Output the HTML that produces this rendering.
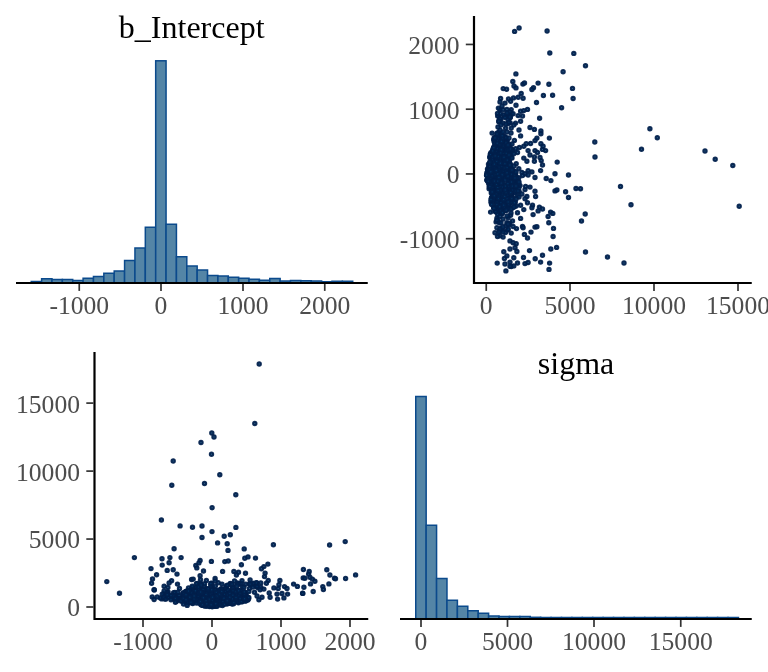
<!DOCTYPE html>
<html><head><meta charset="utf-8"><title>pairs</title>
<style>
html,body{margin:0;padding:0;background:#fff;}
svg{display:block;}
.t{font-family:"Liberation Serif",serif;font-size:25.6px;fill:#4d4d4d;}
.h{font-family:"Liberation Serif",serif;font-size:32px;fill:#000;}
</style></head><body>
<svg width="768" height="672" viewBox="0 0 768 672">
<rect width="768" height="672" fill="#fff"/>
<rect x="31.25" y="281.50" width="10.37" height="1.50" fill="#5485a6" stroke="#0b4a8c" stroke-width="1.5"/>
<rect x="41.62" y="278.75" width="10.37" height="4.25" fill="#5485a6" stroke="#0b4a8c" stroke-width="1.5"/>
<rect x="51.99" y="279.50" width="10.37" height="3.50" fill="#5485a6" stroke="#0b4a8c" stroke-width="1.5"/>
<rect x="62.36" y="279.50" width="10.37" height="3.50" fill="#5485a6" stroke="#0b4a8c" stroke-width="1.5"/>
<rect x="72.73" y="280.50" width="10.37" height="2.50" fill="#5485a6" stroke="#0b4a8c" stroke-width="1.5"/>
<rect x="83.10" y="278.25" width="10.37" height="4.75" fill="#5485a6" stroke="#0b4a8c" stroke-width="1.5"/>
<rect x="93.47" y="276.50" width="10.37" height="6.50" fill="#5485a6" stroke="#0b4a8c" stroke-width="1.5"/>
<rect x="103.84" y="273.25" width="10.37" height="9.75" fill="#5485a6" stroke="#0b4a8c" stroke-width="1.5"/>
<rect x="114.21" y="271.00" width="10.37" height="12.00" fill="#5485a6" stroke="#0b4a8c" stroke-width="1.5"/>
<rect x="124.58" y="260.50" width="10.37" height="22.50" fill="#5485a6" stroke="#0b4a8c" stroke-width="1.5"/>
<rect x="134.95" y="248.00" width="10.37" height="35.00" fill="#5485a6" stroke="#0b4a8c" stroke-width="1.5"/>
<rect x="145.32" y="227.25" width="10.37" height="55.75" fill="#5485a6" stroke="#0b4a8c" stroke-width="1.5"/>
<rect x="155.69" y="60.80" width="10.37" height="222.20" fill="#5485a6" stroke="#0b4a8c" stroke-width="1.5"/>
<rect x="166.06" y="224.25" width="10.37" height="58.75" fill="#5485a6" stroke="#0b4a8c" stroke-width="1.5"/>
<rect x="176.43" y="256.75" width="10.37" height="26.25" fill="#5485a6" stroke="#0b4a8c" stroke-width="1.5"/>
<rect x="186.80" y="266.00" width="10.37" height="17.00" fill="#5485a6" stroke="#0b4a8c" stroke-width="1.5"/>
<rect x="197.17" y="270.00" width="10.37" height="13.00" fill="#5485a6" stroke="#0b4a8c" stroke-width="1.5"/>
<rect x="207.54" y="275.50" width="10.37" height="7.50" fill="#5485a6" stroke="#0b4a8c" stroke-width="1.5"/>
<rect x="217.91" y="276.00" width="10.37" height="7.00" fill="#5485a6" stroke="#0b4a8c" stroke-width="1.5"/>
<rect x="228.28" y="277.25" width="10.37" height="5.75" fill="#5485a6" stroke="#0b4a8c" stroke-width="1.5"/>
<rect x="238.65" y="278.25" width="10.37" height="4.75" fill="#5485a6" stroke="#0b4a8c" stroke-width="1.5"/>
<rect x="249.02" y="279.25" width="10.37" height="3.75" fill="#5485a6" stroke="#0b4a8c" stroke-width="1.5"/>
<rect x="259.39" y="280.25" width="10.37" height="2.75" fill="#5485a6" stroke="#0b4a8c" stroke-width="1.5"/>
<rect x="269.76" y="278.50" width="10.37" height="4.50" fill="#5485a6" stroke="#0b4a8c" stroke-width="1.5"/>
<rect x="280.13" y="281.00" width="10.37" height="2.00" fill="#5485a6" stroke="#0b4a8c" stroke-width="1.5"/>
<rect x="290.50" y="280.50" width="10.37" height="2.50" fill="#5485a6" stroke="#0b4a8c" stroke-width="1.5"/>
<rect x="300.87" y="280.75" width="10.37" height="2.25" fill="#5485a6" stroke="#0b4a8c" stroke-width="1.5"/>
<rect x="311.24" y="281.00" width="10.37" height="2.00" fill="#5485a6" stroke="#0b4a8c" stroke-width="1.5"/>
<rect x="321.61" y="281.75" width="10.37" height="1.25" fill="#5485a6" stroke="#0b4a8c" stroke-width="1.5"/>
<rect x="331.98" y="281.25" width="10.37" height="1.75" fill="#5485a6" stroke="#0b4a8c" stroke-width="1.5"/>
<rect x="342.35" y="281.25" width="10.37" height="1.75" fill="#5485a6" stroke="#0b4a8c" stroke-width="1.5"/>
<line x1="16" y1="283" x2="367.75" y2="283" stroke="#000" stroke-width="2.2"/>
<line x1="79.25" y1="284" x2="79.25" y2="290.9" stroke="#333" stroke-width="1.7"/>
<text x="79.25" y="314.3" text-anchor="middle" class="t">-1000</text>
<line x1="161" y1="284" x2="161" y2="290.9" stroke="#333" stroke-width="1.7"/>
<text x="161" y="314.3" text-anchor="middle" class="t">0</text>
<line x1="243" y1="284" x2="243" y2="290.9" stroke="#333" stroke-width="1.7"/>
<text x="243" y="314.3" text-anchor="middle" class="t">1000</text>
<line x1="324.75" y1="284" x2="324.75" y2="290.9" stroke="#333" stroke-width="1.7"/>
<text x="324.75" y="314.3" text-anchor="middle" class="t">2000</text>
<text x="191.7" y="37.5" text-anchor="middle" class="h">b_Intercept</text>
<rect x="415.75" y="396.50" width="10.41" height="222.50" fill="#5485a6" stroke="#0b4a8c" stroke-width="1.5"/>
<rect x="426.16" y="525.25" width="10.41" height="93.75" fill="#5485a6" stroke="#0b4a8c" stroke-width="1.5"/>
<rect x="436.57" y="578.50" width="10.41" height="40.50" fill="#5485a6" stroke="#0b4a8c" stroke-width="1.5"/>
<rect x="446.98" y="600.25" width="10.41" height="18.75" fill="#5485a6" stroke="#0b4a8c" stroke-width="1.5"/>
<rect x="457.39" y="606.25" width="10.41" height="12.75" fill="#5485a6" stroke="#0b4a8c" stroke-width="1.5"/>
<rect x="467.80" y="610.75" width="10.41" height="8.25" fill="#5485a6" stroke="#0b4a8c" stroke-width="1.5"/>
<rect x="478.21" y="613.25" width="10.41" height="5.75" fill="#5485a6" stroke="#0b4a8c" stroke-width="1.5"/>
<rect x="488.62" y="616.00" width="10.41" height="3.00" fill="#5485a6" stroke="#0b4a8c" stroke-width="1.5"/>
<rect x="499.03" y="616.50" width="10.41" height="2.50" fill="#5485a6" stroke="#0b4a8c" stroke-width="1.5"/>
<rect x="509.44" y="616.50" width="10.41" height="2.50" fill="#5485a6" stroke="#0b4a8c" stroke-width="1.5"/>
<rect x="519.85" y="616.50" width="10.41" height="2.50" fill="#5485a6" stroke="#0b4a8c" stroke-width="1.5"/>
<rect x="530.26" y="617.30" width="10.41" height="1.70" fill="#5485a6" stroke="#0b4a8c" stroke-width="1.5"/>
<rect x="540.67" y="617.50" width="10.41" height="1.50" fill="#5485a6" stroke="#0b4a8c" stroke-width="1.5"/>
<rect x="551.08" y="617.50" width="10.41" height="1.50" fill="#5485a6" stroke="#0b4a8c" stroke-width="1.5"/>
<rect x="561.49" y="617.50" width="10.41" height="1.50" fill="#5485a6" stroke="#0b4a8c" stroke-width="1.5"/>
<rect x="571.90" y="617.50" width="10.41" height="1.50" fill="#5485a6" stroke="#0b4a8c" stroke-width="1.5"/>
<rect x="582.31" y="617.50" width="10.41" height="1.50" fill="#5485a6" stroke="#0b4a8c" stroke-width="1.5"/>
<rect x="592.72" y="617.50" width="10.41" height="1.50" fill="#5485a6" stroke="#0b4a8c" stroke-width="1.5"/>
<rect x="603.13" y="617.50" width="10.41" height="1.50" fill="#5485a6" stroke="#0b4a8c" stroke-width="1.5"/>
<rect x="613.54" y="617.50" width="10.41" height="1.50" fill="#5485a6" stroke="#0b4a8c" stroke-width="1.5"/>
<rect x="623.95" y="617.50" width="10.41" height="1.50" fill="#5485a6" stroke="#0b4a8c" stroke-width="1.5"/>
<rect x="634.36" y="617.50" width="10.41" height="1.50" fill="#5485a6" stroke="#0b4a8c" stroke-width="1.5"/>
<rect x="644.77" y="617.50" width="10.41" height="1.50" fill="#5485a6" stroke="#0b4a8c" stroke-width="1.5"/>
<rect x="655.18" y="617.50" width="10.41" height="1.50" fill="#5485a6" stroke="#0b4a8c" stroke-width="1.5"/>
<rect x="665.59" y="617.50" width="10.41" height="1.50" fill="#5485a6" stroke="#0b4a8c" stroke-width="1.5"/>
<rect x="676.00" y="617.50" width="10.41" height="1.50" fill="#5485a6" stroke="#0b4a8c" stroke-width="1.5"/>
<rect x="686.41" y="617.50" width="10.41" height="1.50" fill="#5485a6" stroke="#0b4a8c" stroke-width="1.5"/>
<rect x="696.82" y="617.50" width="10.41" height="1.50" fill="#5485a6" stroke="#0b4a8c" stroke-width="1.5"/>
<rect x="707.23" y="617.50" width="10.41" height="1.50" fill="#5485a6" stroke="#0b4a8c" stroke-width="1.5"/>
<rect x="717.64" y="617.50" width="10.41" height="1.50" fill="#5485a6" stroke="#0b4a8c" stroke-width="1.5"/>
<rect x="728.05" y="617.50" width="10.41" height="1.50" fill="#5485a6" stroke="#0b4a8c" stroke-width="1.5"/>
<line x1="400" y1="619" x2="751.75" y2="619" stroke="#000" stroke-width="2.2"/>
<line x1="421" y1="620" x2="421" y2="626.9" stroke="#333" stroke-width="1.7"/>
<text x="421" y="650.3" text-anchor="middle" class="t">0</text>
<line x1="507.5" y1="620" x2="507.5" y2="626.9" stroke="#333" stroke-width="1.7"/>
<text x="507.5" y="650.3" text-anchor="middle" class="t">5000</text>
<line x1="594" y1="620" x2="594" y2="626.9" stroke="#333" stroke-width="1.7"/>
<text x="594" y="650.3" text-anchor="middle" class="t">10000</text>
<line x1="680.75" y1="620" x2="680.75" y2="626.9" stroke="#333" stroke-width="1.7"/>
<text x="680.75" y="650.3" text-anchor="middle" class="t">15000</text>
<text x="576" y="373.5" text-anchor="middle" class="h">sigma</text>
<g fill="#03396c" fill-opacity="0.85" stroke="#011f4b" stroke-opacity="0.93" stroke-width="2">
<circle cx="496.5" cy="148.4" r="1.7"/>
<circle cx="506.5" cy="142.2" r="1.7"/>
<circle cx="503.0" cy="165.4" r="1.7"/>
<circle cx="488.3" cy="176.6" r="1.7"/>
<circle cx="487.7" cy="170.8" r="1.7"/>
<circle cx="499.6" cy="201.8" r="1.7"/>
<circle cx="490.3" cy="154.1" r="1.7"/>
<circle cx="504.3" cy="167.8" r="1.7"/>
<circle cx="496.0" cy="201.0" r="1.7"/>
<circle cx="492.1" cy="182.4" r="1.7"/>
<circle cx="506.2" cy="165.9" r="1.7"/>
<circle cx="503.4" cy="141.5" r="1.7"/>
<circle cx="507.5" cy="170.3" r="1.7"/>
<circle cx="496.2" cy="182.8" r="1.7"/>
<circle cx="500.5" cy="160.2" r="1.7"/>
<circle cx="511.0" cy="191.7" r="1.7"/>
<circle cx="494.0" cy="181.9" r="1.7"/>
<circle cx="502.7" cy="205.6" r="1.7"/>
<circle cx="509.0" cy="159.2" r="1.7"/>
<circle cx="499.4" cy="196.3" r="1.7"/>
<circle cx="491.2" cy="175.1" r="1.7"/>
<circle cx="510.0" cy="181.8" r="1.7"/>
<circle cx="507.9" cy="183.5" r="1.7"/>
<circle cx="504.4" cy="172.5" r="1.7"/>
<circle cx="501.1" cy="189.0" r="1.7"/>
<circle cx="498.4" cy="189.3" r="1.7"/>
<circle cx="487.2" cy="173.0" r="1.7"/>
<circle cx="490.5" cy="156.1" r="1.7"/>
<circle cx="498.5" cy="205.3" r="1.7"/>
<circle cx="489.0" cy="172.0" r="1.7"/>
<circle cx="503.4" cy="206.3" r="1.7"/>
<circle cx="495.1" cy="169.3" r="1.7"/>
<circle cx="497.6" cy="206.4" r="1.7"/>
<circle cx="491.9" cy="154.8" r="1.7"/>
<circle cx="493.7" cy="174.8" r="1.7"/>
<circle cx="504.6" cy="157.3" r="1.7"/>
<circle cx="497.9" cy="181.2" r="1.7"/>
<circle cx="515.9" cy="191.0" r="1.7"/>
<circle cx="502.4" cy="185.3" r="1.7"/>
<circle cx="507.3" cy="140.8" r="1.7"/>
<circle cx="498.6" cy="168.0" r="1.7"/>
<circle cx="489.7" cy="186.6" r="1.7"/>
<circle cx="492.9" cy="149.3" r="1.7"/>
<circle cx="497.0" cy="140.7" r="1.7"/>
<circle cx="489.6" cy="165.2" r="1.7"/>
<circle cx="505.4" cy="148.2" r="1.7"/>
<circle cx="494.3" cy="163.9" r="1.7"/>
<circle cx="497.7" cy="146.2" r="1.7"/>
<circle cx="500.9" cy="174.7" r="1.7"/>
<circle cx="497.1" cy="157.4" r="1.7"/>
<circle cx="502.8" cy="148.1" r="1.7"/>
<circle cx="503.2" cy="138.6" r="1.7"/>
<circle cx="513.1" cy="191.5" r="1.7"/>
<circle cx="494.5" cy="165.5" r="1.7"/>
<circle cx="491.6" cy="197.5" r="1.7"/>
<circle cx="502.9" cy="198.0" r="1.7"/>
<circle cx="496.7" cy="154.1" r="1.7"/>
<circle cx="511.7" cy="194.9" r="1.7"/>
<circle cx="493.5" cy="177.4" r="1.7"/>
<circle cx="497.5" cy="138.8" r="1.7"/>
<circle cx="494.5" cy="191.2" r="1.7"/>
<circle cx="493.3" cy="154.4" r="1.7"/>
<circle cx="492.6" cy="152.6" r="1.7"/>
<circle cx="505.7" cy="207.6" r="1.7"/>
<circle cx="512.4" cy="174.4" r="1.7"/>
<circle cx="506.6" cy="199.7" r="1.7"/>
<circle cx="489.1" cy="188.7" r="1.7"/>
<circle cx="509.6" cy="174.3" r="1.7"/>
<circle cx="492.0" cy="198.8" r="1.7"/>
<circle cx="496.7" cy="199.8" r="1.7"/>
<circle cx="498.9" cy="211.3" r="1.7"/>
<circle cx="491.0" cy="201.8" r="1.7"/>
<circle cx="516.7" cy="188.4" r="1.7"/>
<circle cx="497.3" cy="179.8" r="1.7"/>
<circle cx="516.4" cy="187.8" r="1.7"/>
<circle cx="502.7" cy="210.3" r="1.7"/>
<circle cx="499.9" cy="205.4" r="1.7"/>
<circle cx="494.3" cy="159.6" r="1.7"/>
<circle cx="493.9" cy="182.8" r="1.7"/>
<circle cx="494.5" cy="169.6" r="1.7"/>
<circle cx="497.4" cy="172.7" r="1.7"/>
<circle cx="504.5" cy="207.9" r="1.7"/>
<circle cx="499.5" cy="209.0" r="1.7"/>
<circle cx="502.0" cy="178.5" r="1.7"/>
<circle cx="502.6" cy="138.0" r="1.7"/>
<circle cx="500.1" cy="151.0" r="1.7"/>
<circle cx="491.8" cy="173.9" r="1.7"/>
<circle cx="508.8" cy="180.5" r="1.7"/>
<circle cx="496.5" cy="177.4" r="1.7"/>
<circle cx="503.6" cy="198.5" r="1.7"/>
<circle cx="489.8" cy="180.8" r="1.7"/>
<circle cx="494.2" cy="158.4" r="1.7"/>
<circle cx="510.3" cy="176.6" r="1.7"/>
<circle cx="503.8" cy="196.5" r="1.7"/>
<circle cx="505.4" cy="176.4" r="1.7"/>
<circle cx="502.3" cy="191.2" r="1.7"/>
<circle cx="500.4" cy="178.6" r="1.7"/>
<circle cx="501.2" cy="210.9" r="1.7"/>
<circle cx="508.0" cy="205.7" r="1.7"/>
<circle cx="503.7" cy="211.0" r="1.7"/>
<circle cx="490.2" cy="171.4" r="1.7"/>
<circle cx="491.3" cy="193.1" r="1.7"/>
<circle cx="506.8" cy="147.8" r="1.7"/>
<circle cx="498.8" cy="175.0" r="1.7"/>
<circle cx="491.5" cy="170.6" r="1.7"/>
<circle cx="502.4" cy="163.3" r="1.7"/>
<circle cx="492.5" cy="161.7" r="1.7"/>
<circle cx="503.6" cy="171.3" r="1.7"/>
<circle cx="505.7" cy="177.0" r="1.7"/>
<circle cx="489.7" cy="157.5" r="1.7"/>
<circle cx="494.8" cy="146.7" r="1.7"/>
<circle cx="499.5" cy="208.5" r="1.7"/>
<circle cx="504.1" cy="191.8" r="1.7"/>
<circle cx="507.7" cy="170.1" r="1.7"/>
<circle cx="506.0" cy="199.8" r="1.7"/>
<circle cx="500.5" cy="163.3" r="1.7"/>
<circle cx="503.5" cy="209.7" r="1.7"/>
<circle cx="494.8" cy="146.7" r="1.7"/>
<circle cx="502.7" cy="155.3" r="1.7"/>
<circle cx="496.1" cy="160.6" r="1.7"/>
<circle cx="501.9" cy="150.6" r="1.7"/>
<circle cx="497.2" cy="137.9" r="1.7"/>
<circle cx="494.2" cy="137.7" r="1.7"/>
<circle cx="509.1" cy="180.0" r="1.7"/>
<circle cx="492.3" cy="174.0" r="1.7"/>
<circle cx="511.7" cy="170.6" r="1.7"/>
<circle cx="501.7" cy="202.4" r="1.7"/>
<circle cx="498.6" cy="176.5" r="1.7"/>
<circle cx="497.1" cy="202.3" r="1.7"/>
<circle cx="508.3" cy="186.7" r="1.7"/>
<circle cx="499.0" cy="164.0" r="1.7"/>
<circle cx="494.4" cy="149.4" r="1.7"/>
<circle cx="513.3" cy="189.5" r="1.7"/>
<circle cx="495.2" cy="155.6" r="1.7"/>
<circle cx="495.5" cy="172.8" r="1.7"/>
<circle cx="491.4" cy="171.7" r="1.7"/>
<circle cx="516.5" cy="179.7" r="1.7"/>
<circle cx="496.0" cy="164.7" r="1.7"/>
<circle cx="501.1" cy="176.2" r="1.7"/>
<circle cx="492.7" cy="176.4" r="1.7"/>
<circle cx="489.3" cy="168.1" r="1.7"/>
<circle cx="495.9" cy="154.9" r="1.7"/>
<circle cx="504.5" cy="178.3" r="1.7"/>
<circle cx="509.6" cy="188.4" r="1.7"/>
<circle cx="508.6" cy="205.9" r="1.7"/>
<circle cx="498.5" cy="162.3" r="1.7"/>
<circle cx="508.8" cy="187.3" r="1.7"/>
<circle cx="514.0" cy="186.1" r="1.7"/>
<circle cx="509.1" cy="200.7" r="1.7"/>
<circle cx="490.8" cy="177.9" r="1.7"/>
<circle cx="502.0" cy="202.5" r="1.7"/>
<circle cx="511.3" cy="201.8" r="1.7"/>
<circle cx="504.5" cy="207.0" r="1.7"/>
<circle cx="507.5" cy="191.3" r="1.7"/>
<circle cx="490.6" cy="165.0" r="1.7"/>
<circle cx="503.7" cy="186.1" r="1.7"/>
<circle cx="505.8" cy="190.3" r="1.7"/>
<circle cx="501.6" cy="136.8" r="1.7"/>
<circle cx="511.1" cy="195.6" r="1.7"/>
<circle cx="502.0" cy="178.8" r="1.7"/>
<circle cx="506.8" cy="141.7" r="1.7"/>
<circle cx="501.7" cy="166.7" r="1.7"/>
<circle cx="501.3" cy="190.5" r="1.7"/>
<circle cx="510.1" cy="185.2" r="1.7"/>
<circle cx="506.3" cy="142.6" r="1.7"/>
<circle cx="491.0" cy="156.6" r="1.7"/>
<circle cx="509.4" cy="160.5" r="1.7"/>
<circle cx="504.0" cy="137.5" r="1.7"/>
<circle cx="507.2" cy="191.2" r="1.7"/>
<circle cx="507.3" cy="159.5" r="1.7"/>
<circle cx="502.4" cy="173.2" r="1.7"/>
<circle cx="500.9" cy="145.9" r="1.7"/>
<circle cx="487.0" cy="172.8" r="1.7"/>
<circle cx="500.3" cy="157.7" r="1.7"/>
<circle cx="493.0" cy="182.4" r="1.7"/>
<circle cx="490.9" cy="177.9" r="1.7"/>
<circle cx="511.8" cy="176.7" r="1.7"/>
<circle cx="513.8" cy="192.1" r="1.7"/>
<circle cx="493.6" cy="207.4" r="1.7"/>
<circle cx="501.5" cy="138.5" r="1.7"/>
<circle cx="486.6" cy="175.3" r="1.7"/>
<circle cx="500.4" cy="160.4" r="1.7"/>
<circle cx="490.8" cy="163.7" r="1.7"/>
<circle cx="496.2" cy="202.9" r="1.7"/>
<circle cx="515.0" cy="192.8" r="1.7"/>
<circle cx="498.0" cy="167.5" r="1.7"/>
<circle cx="517.3" cy="183.0" r="1.7"/>
<circle cx="497.6" cy="170.3" r="1.7"/>
<circle cx="495.0" cy="140.3" r="1.7"/>
<circle cx="495.3" cy="210.4" r="1.7"/>
<circle cx="494.2" cy="157.5" r="1.7"/>
<circle cx="502.2" cy="151.5" r="1.7"/>
<circle cx="498.0" cy="212.0" r="1.7"/>
<circle cx="505.9" cy="208.7" r="1.7"/>
<circle cx="515.5" cy="179.9" r="1.7"/>
<circle cx="509.1" cy="172.1" r="1.7"/>
<circle cx="509.7" cy="187.4" r="1.7"/>
<circle cx="495.3" cy="140.4" r="1.7"/>
<circle cx="501.0" cy="163.6" r="1.7"/>
<circle cx="495.7" cy="194.9" r="1.7"/>
<circle cx="506.7" cy="160.3" r="1.7"/>
<circle cx="503.7" cy="167.7" r="1.7"/>
<circle cx="501.8" cy="153.9" r="1.7"/>
<circle cx="500.4" cy="147.5" r="1.7"/>
<circle cx="497.0" cy="143.7" r="1.7"/>
<circle cx="493.9" cy="156.9" r="1.7"/>
<circle cx="504.0" cy="206.6" r="1.7"/>
<circle cx="509.6" cy="169.1" r="1.7"/>
<circle cx="499.2" cy="177.9" r="1.7"/>
<circle cx="498.1" cy="163.2" r="1.7"/>
<circle cx="502.0" cy="186.2" r="1.7"/>
<circle cx="494.8" cy="156.1" r="1.7"/>
<circle cx="498.8" cy="171.7" r="1.7"/>
<circle cx="514.1" cy="173.9" r="1.7"/>
<circle cx="504.6" cy="136.5" r="1.7"/>
<circle cx="498.6" cy="209.7" r="1.7"/>
<circle cx="502.6" cy="190.4" r="1.7"/>
<circle cx="506.4" cy="196.9" r="1.7"/>
<circle cx="500.6" cy="180.1" r="1.7"/>
<circle cx="506.4" cy="160.5" r="1.7"/>
<circle cx="490.4" cy="156.4" r="1.7"/>
<circle cx="506.1" cy="191.7" r="1.7"/>
<circle cx="502.7" cy="182.5" r="1.7"/>
<circle cx="498.5" cy="154.2" r="1.7"/>
<circle cx="505.0" cy="137.3" r="1.7"/>
<circle cx="495.8" cy="172.9" r="1.7"/>
<circle cx="516.0" cy="187.4" r="1.7"/>
<circle cx="513.7" cy="174.0" r="1.7"/>
<circle cx="493.7" cy="156.0" r="1.7"/>
<circle cx="496.0" cy="138.2" r="1.7"/>
<circle cx="501.8" cy="189.8" r="1.7"/>
<circle cx="499.4" cy="156.8" r="1.7"/>
<circle cx="496.9" cy="169.7" r="1.7"/>
<circle cx="507.5" cy="152.1" r="1.7"/>
<circle cx="511.0" cy="194.9" r="1.7"/>
<circle cx="502.1" cy="152.7" r="1.7"/>
<circle cx="493.3" cy="196.6" r="1.7"/>
<circle cx="495.6" cy="211.7" r="1.7"/>
<circle cx="501.8" cy="151.3" r="1.7"/>
<circle cx="493.4" cy="169.4" r="1.7"/>
<circle cx="491.0" cy="167.6" r="1.7"/>
<circle cx="488.4" cy="167.6" r="1.7"/>
<circle cx="507.0" cy="166.4" r="1.7"/>
<circle cx="498.0" cy="162.7" r="1.7"/>
<circle cx="495.1" cy="164.3" r="1.7"/>
<circle cx="497.5" cy="201.4" r="1.7"/>
<circle cx="511.8" cy="170.7" r="1.7"/>
<circle cx="488.0" cy="173.9" r="1.7"/>
<circle cx="498.0" cy="209.1" r="1.7"/>
<circle cx="492.4" cy="165.3" r="1.7"/>
<circle cx="499.2" cy="200.6" r="1.7"/>
<circle cx="496.9" cy="158.0" r="1.7"/>
<circle cx="516.0" cy="185.2" r="1.7"/>
<circle cx="494.6" cy="193.1" r="1.7"/>
<circle cx="496.2" cy="158.3" r="1.7"/>
<circle cx="514.7" cy="186.6" r="1.7"/>
<circle cx="493.7" cy="174.0" r="1.7"/>
<circle cx="498.4" cy="156.3" r="1.7"/>
<circle cx="499.7" cy="175.5" r="1.7"/>
<circle cx="511.2" cy="194.8" r="1.7"/>
<circle cx="511.8" cy="197.6" r="1.7"/>
<circle cx="505.2" cy="162.4" r="1.7"/>
<circle cx="496.3" cy="165.1" r="1.7"/>
<circle cx="492.6" cy="196.0" r="1.7"/>
<circle cx="494.1" cy="141.6" r="1.7"/>
<circle cx="487.5" cy="180.2" r="1.7"/>
<circle cx="494.7" cy="143.1" r="1.7"/>
<circle cx="489.5" cy="175.9" r="1.7"/>
<circle cx="508.4" cy="171.8" r="1.7"/>
<circle cx="493.7" cy="169.4" r="1.7"/>
<circle cx="505.6" cy="189.8" r="1.7"/>
<circle cx="509.5" cy="203.4" r="1.7"/>
<circle cx="507.0" cy="146.1" r="1.7"/>
<circle cx="504.0" cy="166.0" r="1.7"/>
<circle cx="494.1" cy="155.9" r="1.7"/>
<circle cx="504.3" cy="162.3" r="1.7"/>
<circle cx="502.1" cy="154.8" r="1.7"/>
<circle cx="511.4" cy="188.1" r="1.7"/>
<circle cx="501.1" cy="201.2" r="1.7"/>
<circle cx="516.5" cy="182.6" r="1.7"/>
<circle cx="513.2" cy="172.0" r="1.7"/>
<circle cx="494.5" cy="197.9" r="1.7"/>
<circle cx="504.9" cy="185.5" r="1.7"/>
<circle cx="493.2" cy="165.6" r="1.7"/>
<circle cx="490.9" cy="152.6" r="1.7"/>
<circle cx="494.4" cy="183.9" r="1.7"/>
<circle cx="506.6" cy="152.6" r="1.7"/>
<circle cx="507.4" cy="151.1" r="1.7"/>
<circle cx="496.1" cy="152.6" r="1.7"/>
<circle cx="511.0" cy="179.8" r="1.7"/>
<circle cx="498.7" cy="180.0" r="1.7"/>
<circle cx="506.2" cy="143.7" r="1.7"/>
<circle cx="491.5" cy="191.4" r="1.7"/>
<circle cx="499.1" cy="158.9" r="1.7"/>
<circle cx="496.0" cy="211.8" r="1.7"/>
<circle cx="496.1" cy="181.3" r="1.7"/>
<circle cx="497.5" cy="169.4" r="1.7"/>
<circle cx="497.7" cy="152.1" r="1.7"/>
<circle cx="499.6" cy="201.3" r="1.7"/>
<circle cx="499.0" cy="206.2" r="1.7"/>
<circle cx="500.7" cy="149.3" r="1.7"/>
<circle cx="487.0" cy="180.1" r="1.7"/>
<circle cx="506.2" cy="208.4" r="1.7"/>
<circle cx="489.2" cy="185.7" r="1.7"/>
<circle cx="497.9" cy="176.4" r="1.7"/>
<circle cx="491.0" cy="158.9" r="1.7"/>
<circle cx="502.6" cy="209.6" r="1.7"/>
<circle cx="489.9" cy="175.3" r="1.7"/>
<circle cx="501.4" cy="140.7" r="1.7"/>
<circle cx="514.4" cy="185.5" r="1.7"/>
<circle cx="499.0" cy="203.4" r="1.7"/>
<circle cx="493.2" cy="168.1" r="1.7"/>
<circle cx="502.5" cy="166.8" r="1.7"/>
<circle cx="490.3" cy="156.0" r="1.7"/>
<circle cx="487.8" cy="180.9" r="1.7"/>
<circle cx="505.0" cy="180.0" r="1.7"/>
<circle cx="505.8" cy="160.7" r="1.7"/>
<circle cx="499.4" cy="182.5" r="1.7"/>
<circle cx="499.6" cy="188.5" r="1.7"/>
<circle cx="500.3" cy="171.1" r="1.7"/>
<circle cx="501.6" cy="155.1" r="1.7"/>
<circle cx="510.0" cy="198.1" r="1.7"/>
<circle cx="500.6" cy="150.7" r="1.7"/>
<circle cx="501.1" cy="145.0" r="1.7"/>
<circle cx="490.5" cy="170.5" r="1.7"/>
<circle cx="489.3" cy="171.4" r="1.7"/>
<circle cx="502.2" cy="139.7" r="1.7"/>
<circle cx="506.1" cy="143.0" r="1.7"/>
<circle cx="509.1" cy="197.9" r="1.7"/>
<circle cx="502.3" cy="140.8" r="1.7"/>
<circle cx="502.0" cy="166.4" r="1.7"/>
<circle cx="509.0" cy="200.9" r="1.7"/>
<circle cx="501.6" cy="212.1" r="1.7"/>
<circle cx="488.5" cy="164.2" r="1.7"/>
<circle cx="502.0" cy="209.2" r="1.7"/>
<circle cx="492.9" cy="157.3" r="1.7"/>
<circle cx="502.1" cy="161.7" r="1.7"/>
<circle cx="507.4" cy="207.2" r="1.7"/>
<circle cx="491.7" cy="198.5" r="1.7"/>
<circle cx="490.0" cy="178.4" r="1.7"/>
<circle cx="506.1" cy="164.9" r="1.7"/>
<circle cx="513.4" cy="180.4" r="1.7"/>
<circle cx="504.4" cy="206.2" r="1.7"/>
<circle cx="505.9" cy="167.6" r="1.7"/>
<circle cx="517.0" cy="182.1" r="1.7"/>
<circle cx="497.6" cy="196.9" r="1.7"/>
<circle cx="500.1" cy="150.5" r="1.7"/>
<circle cx="504.5" cy="188.9" r="1.7"/>
<circle cx="496.1" cy="136.6" r="1.7"/>
<circle cx="505.5" cy="170.6" r="1.7"/>
<circle cx="502.3" cy="207.2" r="1.7"/>
<circle cx="490.6" cy="154.5" r="1.7"/>
<circle cx="506.6" cy="138.3" r="1.7"/>
<circle cx="489.8" cy="164.7" r="1.7"/>
<circle cx="493.4" cy="182.6" r="1.7"/>
<circle cx="504.6" cy="152.6" r="1.7"/>
<circle cx="505.7" cy="174.0" r="1.7"/>
<circle cx="494.0" cy="148.3" r="1.7"/>
<circle cx="489.5" cy="186.9" r="1.7"/>
<circle cx="513.3" cy="198.3" r="1.7"/>
<circle cx="498.9" cy="157.4" r="1.7"/>
<circle cx="503.8" cy="164.2" r="1.7"/>
<circle cx="506.4" cy="171.6" r="1.7"/>
<circle cx="494.2" cy="207.9" r="1.7"/>
<circle cx="487.9" cy="178.5" r="1.7"/>
<circle cx="499.0" cy="155.3" r="1.7"/>
<circle cx="486.9" cy="180.0" r="1.7"/>
<circle cx="492.6" cy="184.5" r="1.7"/>
<circle cx="502.1" cy="187.2" r="1.7"/>
<circle cx="496.0" cy="160.2" r="1.7"/>
<circle cx="510.6" cy="193.0" r="1.7"/>
<circle cx="509.5" cy="173.3" r="1.7"/>
<circle cx="509.3" cy="172.2" r="1.7"/>
<circle cx="493.7" cy="139.6" r="1.7"/>
<circle cx="496.8" cy="195.7" r="1.7"/>
<circle cx="507.9" cy="203.3" r="1.7"/>
<circle cx="508.4" cy="157.5" r="1.7"/>
<circle cx="503.6" cy="170.9" r="1.7"/>
<circle cx="510.8" cy="177.8" r="1.7"/>
<circle cx="494.7" cy="187.2" r="1.7"/>
<circle cx="494.5" cy="155.2" r="1.7"/>
<circle cx="509.5" cy="162.3" r="1.7"/>
<circle cx="493.9" cy="208.2" r="1.7"/>
<circle cx="505.9" cy="191.2" r="1.7"/>
<circle cx="501.0" cy="202.8" r="1.7"/>
<circle cx="508.0" cy="204.2" r="1.7"/>
<circle cx="500.0" cy="193.7" r="1.7"/>
<circle cx="504.1" cy="160.8" r="1.7"/>
<circle cx="493.0" cy="185.7" r="1.7"/>
<circle cx="497.1" cy="147.7" r="1.7"/>
<circle cx="507.8" cy="186.6" r="1.7"/>
<circle cx="508.0" cy="194.7" r="1.7"/>
<circle cx="488.5" cy="183.1" r="1.7"/>
<circle cx="497.7" cy="201.1" r="1.7"/>
<circle cx="506.0" cy="201.7" r="1.7"/>
<circle cx="506.0" cy="159.2" r="1.7"/>
<circle cx="496.3" cy="170.0" r="1.7"/>
<circle cx="495.2" cy="193.0" r="1.7"/>
<circle cx="497.8" cy="161.8" r="1.7"/>
<circle cx="512.7" cy="185.3" r="1.7"/>
<circle cx="487.5" cy="169.1" r="1.7"/>
<circle cx="499.9" cy="197.6" r="1.7"/>
<circle cx="497.2" cy="192.2" r="1.7"/>
<circle cx="503.1" cy="153.6" r="1.7"/>
<circle cx="486.6" cy="175.3" r="1.7"/>
<circle cx="501.6" cy="199.4" r="1.7"/>
<circle cx="492.2" cy="175.6" r="1.7"/>
<circle cx="497.2" cy="202.2" r="1.7"/>
<circle cx="495.2" cy="153.5" r="1.7"/>
<circle cx="508.0" cy="175.9" r="1.7"/>
<circle cx="489.9" cy="186.8" r="1.7"/>
<circle cx="508.0" cy="198.7" r="1.7"/>
<circle cx="505.8" cy="164.6" r="1.7"/>
<circle cx="498.9" cy="167.7" r="1.7"/>
<circle cx="492.8" cy="157.3" r="1.7"/>
<circle cx="514.3" cy="176.1" r="1.7"/>
<circle cx="498.2" cy="206.3" r="1.7"/>
<circle cx="493.7" cy="172.9" r="1.7"/>
<circle cx="502.9" cy="196.1" r="1.7"/>
<circle cx="509.7" cy="187.6" r="1.7"/>
<circle cx="497.2" cy="162.3" r="1.7"/>
<circle cx="491.3" cy="203.1" r="1.7"/>
<circle cx="506.9" cy="195.1" r="1.7"/>
<circle cx="491.7" cy="171.2" r="1.7"/>
<circle cx="510.3" cy="182.3" r="1.7"/>
<circle cx="490.4" cy="173.0" r="1.7"/>
<circle cx="492.4" cy="160.3" r="1.7"/>
<circle cx="508.2" cy="203.1" r="1.7"/>
<circle cx="494.1" cy="162.3" r="1.7"/>
<circle cx="502.6" cy="149.2" r="1.7"/>
<circle cx="496.6" cy="151.5" r="1.7"/>
<circle cx="489.6" cy="166.9" r="1.7"/>
<circle cx="509.1" cy="170.9" r="1.7"/>
<circle cx="492.5" cy="186.9" r="1.7"/>
<circle cx="498.5" cy="139.2" r="1.7"/>
<circle cx="498.8" cy="199.0" r="1.7"/>
<circle cx="507.9" cy="176.0" r="1.7"/>
<circle cx="506.0" cy="173.1" r="1.7"/>
<circle cx="490.9" cy="184.2" r="1.7"/>
<circle cx="499.0" cy="195.0" r="1.7"/>
<circle cx="504.2" cy="195.7" r="1.7"/>
<circle cx="499.5" cy="154.6" r="1.7"/>
<circle cx="508.7" cy="206.0" r="1.7"/>
<circle cx="510.3" cy="191.8" r="1.7"/>
<circle cx="512.8" cy="190.2" r="1.7"/>
<circle cx="506.3" cy="172.4" r="1.7"/>
<circle cx="496.1" cy="186.1" r="1.7"/>
<circle cx="489.5" cy="169.6" r="1.7"/>
<circle cx="510.6" cy="192.8" r="1.7"/>
<circle cx="505.9" cy="156.3" r="1.7"/>
<circle cx="499.5" cy="172.5" r="1.7"/>
<circle cx="505.6" cy="168.8" r="1.7"/>
<circle cx="492.1" cy="188.2" r="1.7"/>
<circle cx="510.5" cy="167.2" r="1.7"/>
<circle cx="501.6" cy="213.5" r="1.7"/>
<circle cx="487.7" cy="179.4" r="1.7"/>
<circle cx="491.5" cy="198.3" r="1.7"/>
<circle cx="515.5" cy="177.5" r="1.7"/>
<circle cx="489.6" cy="181.9" r="1.7"/>
<circle cx="503.2" cy="193.2" r="1.7"/>
<circle cx="502.3" cy="187.0" r="1.7"/>
<circle cx="512.0" cy="177.7" r="1.7"/>
<circle cx="499.1" cy="211.4" r="1.7"/>
<circle cx="493.0" cy="190.6" r="1.7"/>
<circle cx="498.6" cy="196.8" r="1.7"/>
<circle cx="497.4" cy="141.0" r="1.7"/>
<circle cx="495.0" cy="168.1" r="1.7"/>
<circle cx="499.5" cy="191.7" r="1.7"/>
<circle cx="497.3" cy="157.4" r="1.7"/>
<circle cx="493.4" cy="195.1" r="1.7"/>
<circle cx="515.4" cy="178.1" r="1.7"/>
<circle cx="493.2" cy="199.8" r="1.7"/>
<circle cx="498.6" cy="153.2" r="1.7"/>
<circle cx="511.4" cy="186.6" r="1.7"/>
<circle cx="501.0" cy="180.9" r="1.7"/>
<circle cx="497.4" cy="187.0" r="1.7"/>
<circle cx="511.7" cy="201.0" r="1.7"/>
<circle cx="500.9" cy="159.8" r="1.7"/>
<circle cx="503.4" cy="146.4" r="1.7"/>
<circle cx="498.1" cy="156.5" r="1.7"/>
<circle cx="499.6" cy="151.2" r="1.7"/>
<circle cx="495.2" cy="155.9" r="1.7"/>
<circle cx="495.8" cy="174.4" r="1.7"/>
<circle cx="499.7" cy="186.8" r="1.7"/>
<circle cx="506.8" cy="165.1" r="1.7"/>
<circle cx="506.0" cy="137.7" r="1.7"/>
<circle cx="506.7" cy="156.3" r="1.7"/>
<circle cx="493.7" cy="197.8" r="1.7"/>
<circle cx="497.2" cy="148.6" r="1.7"/>
<circle cx="505.2" cy="198.2" r="1.7"/>
<circle cx="507.1" cy="207.1" r="1.7"/>
<circle cx="510.8" cy="202.8" r="1.7"/>
<circle cx="492.6" cy="191.2" r="1.7"/>
<circle cx="502.8" cy="195.1" r="1.7"/>
<circle cx="500.0" cy="206.2" r="1.7"/>
<circle cx="503.6" cy="157.4" r="1.7"/>
<circle cx="493.7" cy="147.5" r="1.7"/>
<circle cx="501.7" cy="141.1" r="1.7"/>
<circle cx="500.9" cy="147.9" r="1.7"/>
<circle cx="501.6" cy="175.9" r="1.7"/>
<circle cx="503.1" cy="204.7" r="1.7"/>
<circle cx="500.9" cy="180.9" r="1.7"/>
<circle cx="507.0" cy="202.9" r="1.7"/>
<circle cx="498.0" cy="169.6" r="1.7"/>
<circle cx="506.1" cy="186.8" r="1.7"/>
<circle cx="502.2" cy="174.8" r="1.7"/>
<circle cx="508.6" cy="185.9" r="1.7"/>
<circle cx="496.9" cy="204.6" r="1.7"/>
<circle cx="497.8" cy="174.0" r="1.7"/>
<circle cx="502.7" cy="197.4" r="1.7"/>
<circle cx="493.0" cy="170.9" r="1.7"/>
<circle cx="499.5" cy="180.3" r="1.7"/>
<circle cx="502.0" cy="158.0" r="1.7"/>
<circle cx="502.1" cy="213.5" r="1.7"/>
<circle cx="506.7" cy="199.1" r="1.7"/>
<circle cx="496.7" cy="161.6" r="1.7"/>
<circle cx="495.7" cy="182.8" r="1.7"/>
<circle cx="506.1" cy="198.5" r="1.7"/>
<circle cx="513.8" cy="179.6" r="1.7"/>
<circle cx="514.9" cy="184.6" r="1.7"/>
<circle cx="506.8" cy="198.8" r="1.7"/>
<circle cx="514.5" cy="184.8" r="1.7"/>
<circle cx="505.5" cy="186.0" r="1.7"/>
<circle cx="507.9" cy="183.6" r="1.7"/>
<circle cx="507.5" cy="153.3" r="1.7"/>
<circle cx="507.0" cy="172.7" r="1.7"/>
<circle cx="506.7" cy="165.6" r="1.7"/>
<circle cx="511.8" cy="198.6" r="1.7"/>
<circle cx="503.8" cy="156.9" r="1.7"/>
<circle cx="495.8" cy="169.8" r="1.7"/>
<circle cx="496.3" cy="170.5" r="1.7"/>
<circle cx="506.3" cy="210.3" r="1.7"/>
<circle cx="488.2" cy="181.3" r="1.7"/>
<circle cx="511.5" cy="182.0" r="1.7"/>
<circle cx="504.7" cy="210.6" r="1.7"/>
<circle cx="499.2" cy="144.6" r="1.7"/>
<circle cx="506.4" cy="153.3" r="1.7"/>
<circle cx="508.5" cy="204.1" r="1.7"/>
<circle cx="505.9" cy="192.5" r="1.7"/>
<circle cx="500.7" cy="210.2" r="1.7"/>
<circle cx="496.1" cy="194.1" r="1.7"/>
<circle cx="491.6" cy="204.5" r="1.7"/>
<circle cx="501.5" cy="141.2" r="1.7"/>
<circle cx="497.8" cy="181.9" r="1.7"/>
<circle cx="500.0" cy="190.0" r="1.7"/>
<circle cx="491.0" cy="199.5" r="1.7"/>
<circle cx="497.7" cy="187.4" r="1.7"/>
<circle cx="505.9" cy="169.5" r="1.7"/>
<circle cx="498.4" cy="198.6" r="1.7"/>
<circle cx="504.0" cy="159.6" r="1.7"/>
<circle cx="508.2" cy="201.9" r="1.7"/>
<circle cx="496.7" cy="184.4" r="1.7"/>
<circle cx="505.0" cy="160.9" r="1.7"/>
<circle cx="499.7" cy="206.7" r="1.7"/>
<circle cx="498.1" cy="190.6" r="1.7"/>
<circle cx="505.0" cy="207.3" r="1.7"/>
<circle cx="499.5" cy="182.8" r="1.7"/>
<circle cx="504.1" cy="158.1" r="1.7"/>
<circle cx="507.6" cy="208.7" r="1.7"/>
<circle cx="497.2" cy="143.2" r="1.7"/>
<circle cx="503.6" cy="199.5" r="1.7"/>
<circle cx="492.7" cy="195.8" r="1.7"/>
<circle cx="505.2" cy="190.0" r="1.7"/>
<circle cx="500.8" cy="152.8" r="1.7"/>
<circle cx="494.3" cy="195.8" r="1.7"/>
<circle cx="510.9" cy="172.8" r="1.7"/>
<circle cx="504.4" cy="207.4" r="1.7"/>
<circle cx="513.8" cy="177.7" r="1.7"/>
<circle cx="501.2" cy="183.1" r="1.7"/>
<circle cx="492.3" cy="151.7" r="1.7"/>
<circle cx="492.1" cy="191.9" r="1.7"/>
<circle cx="497.7" cy="181.1" r="1.7"/>
<circle cx="498.9" cy="177.4" r="1.7"/>
<circle cx="489.8" cy="186.5" r="1.7"/>
<circle cx="504.9" cy="163.7" r="1.7"/>
<circle cx="502.5" cy="138.1" r="1.7"/>
<circle cx="513.2" cy="174.9" r="1.7"/>
<circle cx="504.0" cy="157.2" r="1.7"/>
<circle cx="510.5" cy="170.2" r="1.7"/>
<circle cx="494.3" cy="139.5" r="1.7"/>
<circle cx="492.7" cy="150.8" r="1.7"/>
<circle cx="503.7" cy="205.3" r="1.7"/>
<circle cx="500.6" cy="211.3" r="1.7"/>
<circle cx="504.9" cy="167.9" r="1.7"/>
<circle cx="494.4" cy="181.1" r="1.7"/>
<circle cx="507.1" cy="167.6" r="1.7"/>
<circle cx="500.3" cy="149.1" r="1.7"/>
<circle cx="494.4" cy="164.3" r="1.7"/>
<circle cx="510.7" cy="192.6" r="1.7"/>
<circle cx="507.3" cy="160.1" r="1.7"/>
<circle cx="504.7" cy="196.4" r="1.7"/>
<circle cx="489.7" cy="162.1" r="1.7"/>
<circle cx="494.4" cy="146.3" r="1.7"/>
<circle cx="501.3" cy="149.8" r="1.7"/>
<circle cx="493.8" cy="147.8" r="1.7"/>
<circle cx="490.8" cy="171.8" r="1.7"/>
<circle cx="512.4" cy="186.1" r="1.7"/>
<circle cx="500.4" cy="163.3" r="1.7"/>
<circle cx="511.9" cy="174.2" r="1.7"/>
<circle cx="505.8" cy="147.8" r="1.7"/>
<circle cx="499.8" cy="109.6" r="1.7"/>
<circle cx="508.1" cy="123.5" r="1.7"/>
<circle cx="498.5" cy="132.4" r="1.7"/>
<circle cx="500.5" cy="119.5" r="1.7"/>
<circle cx="498.6" cy="115.6" r="1.7"/>
<circle cx="510.3" cy="117.4" r="1.7"/>
<circle cx="498.9" cy="121.7" r="1.7"/>
<circle cx="501.4" cy="133.3" r="1.7"/>
<circle cx="497.9" cy="135.4" r="1.7"/>
<circle cx="497.0" cy="133.1" r="1.7"/>
<circle cx="507.4" cy="113.9" r="1.7"/>
<circle cx="504.1" cy="116.0" r="1.7"/>
<circle cx="500.4" cy="113.6" r="1.7"/>
<circle cx="502.2" cy="135.7" r="1.7"/>
<circle cx="497.7" cy="116.1" r="1.7"/>
<circle cx="511.2" cy="109.6" r="1.7"/>
<circle cx="508.4" cy="116.2" r="1.7"/>
<circle cx="509.7" cy="117.5" r="1.7"/>
<circle cx="498.4" cy="108.1" r="1.7"/>
<circle cx="510.1" cy="122.7" r="1.7"/>
<circle cx="499.2" cy="120.2" r="1.7"/>
<circle cx="511.5" cy="114.1" r="1.7"/>
<circle cx="508.1" cy="146.3" r="1.7"/>
<circle cx="515.5" cy="175.7" r="1.7"/>
<circle cx="510.8" cy="154.8" r="1.7"/>
<circle cx="515.6" cy="191.0" r="1.7"/>
<circle cx="518.4" cy="182.0" r="1.7"/>
<circle cx="509.8" cy="144.7" r="1.7"/>
<circle cx="512.1" cy="151.8" r="1.7"/>
<circle cx="509.6" cy="147.4" r="1.7"/>
<circle cx="507.4" cy="146.9" r="1.7"/>
<circle cx="515.1" cy="177.6" r="1.7"/>
<circle cx="519.2" cy="191.6" r="1.7"/>
<circle cx="507.6" cy="148.9" r="1.7"/>
<circle cx="510.9" cy="148.8" r="1.7"/>
<circle cx="512.7" cy="149.9" r="1.7"/>
<circle cx="515.3" cy="202.0" r="1.7"/>
<circle cx="512.4" cy="170.3" r="1.7"/>
<circle cx="518.8" cy="177.8" r="1.7"/>
<circle cx="512.5" cy="207.8" r="1.7"/>
<circle cx="510.4" cy="164.1" r="1.7"/>
<circle cx="507.3" cy="150.0" r="1.7"/>
<circle cx="520.1" cy="185.6" r="1.7"/>
<circle cx="514.6" cy="206.6" r="1.7"/>
<circle cx="514.3" cy="171.2" r="1.7"/>
<circle cx="508.7" cy="149.5" r="1.7"/>
<circle cx="511.1" cy="169.3" r="1.7"/>
<circle cx="511.0" cy="157.5" r="1.7"/>
<circle cx="518.8" cy="183.9" r="1.7"/>
<circle cx="515.6" cy="173.8" r="1.7"/>
<circle cx="511.3" cy="157.4" r="1.7"/>
<circle cx="514.8" cy="175.4" r="1.7"/>
<circle cx="499.8" cy="235.7" r="1.7"/>
<circle cx="500.0" cy="230.8" r="1.7"/>
<circle cx="497.7" cy="214.5" r="1.7"/>
<circle cx="509.8" cy="223.1" r="1.7"/>
<circle cx="496.1" cy="221.9" r="1.7"/>
<circle cx="502.5" cy="229.9" r="1.7"/>
<circle cx="496.9" cy="218.2" r="1.7"/>
<circle cx="497.6" cy="220.8" r="1.7"/>
<circle cx="501.0" cy="228.5" r="1.7"/>
<circle cx="505.5" cy="232.5" r="1.7"/>
<circle cx="509.0" cy="224.9" r="1.7"/>
<circle cx="507.6" cy="230.1" r="1.7"/>
<circle cx="507.9" cy="223.9" r="1.7"/>
<circle cx="508.3" cy="229.3" r="1.7"/>
<circle cx="585.5" cy="65.8" r="1.7"/>
<circle cx="594.8" cy="142.0" r="1.7"/>
<circle cx="595.0" cy="157.0" r="1.7"/>
<circle cx="641.5" cy="149.2" r="1.7"/>
<circle cx="649.9" cy="128.8" r="1.7"/>
<circle cx="657.3" cy="137.8" r="1.7"/>
<circle cx="705.0" cy="151.0" r="1.7"/>
<circle cx="715.2" cy="159.2" r="1.7"/>
<circle cx="732.8" cy="165.5" r="1.7"/>
<circle cx="576.0" cy="188.5" r="1.7"/>
<circle cx="580.5" cy="188.8" r="1.7"/>
<circle cx="620.5" cy="186.5" r="1.7"/>
<circle cx="631.0" cy="204.8" r="1.7"/>
<circle cx="585.2" cy="214.0" r="1.7"/>
<circle cx="581.5" cy="221.0" r="1.7"/>
<circle cx="585.5" cy="252.0" r="1.7"/>
<circle cx="607.5" cy="257.0" r="1.7"/>
<circle cx="624.0" cy="263.0" r="1.7"/>
<circle cx="739.2" cy="206.2" r="1.7"/>
<circle cx="519.1" cy="28.0" r="1.7"/>
<circle cx="514.6" cy="31.4" r="1.7"/>
<circle cx="547.1" cy="31.0" r="1.7"/>
<circle cx="549.8" cy="53.0" r="1.7"/>
<circle cx="573.8" cy="53.4" r="1.7"/>
<circle cx="563.1" cy="71.8" r="1.7"/>
<circle cx="515.9" cy="73.9" r="1.7"/>
<circle cx="512.8" cy="81.4" r="1.7"/>
<circle cx="514.0" cy="86.0" r="1.7"/>
<circle cx="516.0" cy="87.9" r="1.7"/>
<circle cx="522.9" cy="84.1" r="1.7"/>
<circle cx="524.5" cy="82.9" r="1.7"/>
<circle cx="538.1" cy="83.1" r="1.7"/>
<circle cx="548.9" cy="84.2" r="1.7"/>
<circle cx="572.5" cy="88.4" r="1.7"/>
<circle cx="503.2" cy="88.6" r="1.7"/>
<circle cx="506.6" cy="89.2" r="1.7"/>
<circle cx="533.5" cy="87.8" r="1.7"/>
<circle cx="531.9" cy="89.5" r="1.7"/>
<circle cx="521.2" cy="93.4" r="1.7"/>
<circle cx="543.4" cy="95.5" r="1.7"/>
<circle cx="552.6" cy="95.2" r="1.7"/>
<circle cx="500.6" cy="98.5" r="1.7"/>
<circle cx="508.5" cy="99.0" r="1.7"/>
<circle cx="513.5" cy="97.9" r="1.7"/>
<circle cx="518.2" cy="97.2" r="1.7"/>
<circle cx="523.1" cy="98.2" r="1.7"/>
<circle cx="573.1" cy="98.5" r="1.7"/>
<circle cx="536.5" cy="102.5" r="1.7"/>
<circle cx="561.6" cy="107.8" r="1.7"/>
<circle cx="539.6" cy="118.2" r="1.7"/>
<circle cx="527.5" cy="109.4" r="1.7"/>
<circle cx="516.0" cy="105.2" r="1.7"/>
<circle cx="500.0" cy="101.9" r="1.7"/>
<circle cx="505.0" cy="103.1" r="1.7"/>
<circle cx="510.6" cy="101.2" r="1.7"/>
<circle cx="497.5" cy="113.4" r="1.7"/>
<circle cx="503.1" cy="109.8" r="1.7"/>
<circle cx="506.9" cy="109.4" r="1.7"/>
<circle cx="510.0" cy="111.9" r="1.7"/>
<circle cx="513.1" cy="113.8" r="1.7"/>
<circle cx="520.6" cy="111.2" r="1.7"/>
<circle cx="523.8" cy="110.6" r="1.7"/>
<circle cx="518.1" cy="115.6" r="1.7"/>
<circle cx="522.5" cy="116.0" r="1.7"/>
<circle cx="503.8" cy="115.0" r="1.7"/>
<circle cx="505.0" cy="117.5" r="1.7"/>
<circle cx="500.0" cy="118.8" r="1.7"/>
<circle cx="498.8" cy="121.2" r="1.7"/>
<circle cx="508.1" cy="120.0" r="1.7"/>
<circle cx="508.8" cy="122.5" r="1.7"/>
<circle cx="503.1" cy="123.1" r="1.7"/>
<circle cx="520.6" cy="121.2" r="1.7"/>
<circle cx="515.6" cy="123.1" r="1.7"/>
<circle cx="513.8" cy="125.0" r="1.7"/>
<circle cx="530.0" cy="127.5" r="1.7"/>
<circle cx="534.4" cy="129.4" r="1.7"/>
<circle cx="540.9" cy="131.0" r="1.7"/>
<circle cx="540.9" cy="133.8" r="1.7"/>
<circle cx="549.4" cy="138.1" r="1.7"/>
<circle cx="519.0" cy="130.0" r="1.7"/>
<circle cx="511.2" cy="128.1" r="1.7"/>
<circle cx="505.6" cy="128.1" r="1.7"/>
<circle cx="500.0" cy="130.0" r="1.7"/>
<circle cx="492.1" cy="133.1" r="1.7"/>
<circle cx="520.6" cy="135.9" r="1.7"/>
<circle cx="514.4" cy="140.4" r="1.7"/>
<circle cx="536.9" cy="138.1" r="1.7"/>
<circle cx="535.0" cy="140.6" r="1.7"/>
<circle cx="540.9" cy="143.8" r="1.7"/>
<circle cx="543.1" cy="146.2" r="1.7"/>
<circle cx="530.6" cy="143.5" r="1.7"/>
<circle cx="526.2" cy="143.8" r="1.7"/>
<circle cx="523.8" cy="146.2" r="1.7"/>
<circle cx="519.4" cy="147.5" r="1.7"/>
<circle cx="515.6" cy="148.8" r="1.7"/>
<circle cx="528.1" cy="150.6" r="1.7"/>
<circle cx="535.0" cy="150.6" r="1.7"/>
<circle cx="537.5" cy="152.5" r="1.7"/>
<circle cx="542.5" cy="149.4" r="1.7"/>
<circle cx="545.6" cy="150.6" r="1.7"/>
<circle cx="530.0" cy="155.0" r="1.7"/>
<circle cx="534.4" cy="156.9" r="1.7"/>
<circle cx="540.0" cy="157.5" r="1.7"/>
<circle cx="541.2" cy="160.6" r="1.7"/>
<circle cx="534.4" cy="161.2" r="1.7"/>
<circle cx="523.8" cy="158.1" r="1.7"/>
<circle cx="526.9" cy="161.2" r="1.7"/>
<circle cx="516.2" cy="163.8" r="1.7"/>
<circle cx="513.8" cy="153.8" r="1.7"/>
<circle cx="517.5" cy="152.5" r="1.7"/>
<circle cx="542.5" cy="165.0" r="1.7"/>
<circle cx="557.2" cy="162.1" r="1.7"/>
<circle cx="540.6" cy="170.6" r="1.7"/>
<circle cx="555.0" cy="173.8" r="1.7"/>
<circle cx="568.5" cy="175.0" r="1.7"/>
<circle cx="518.8" cy="168.8" r="1.7"/>
<circle cx="521.9" cy="172.5" r="1.7"/>
<circle cx="528.1" cy="170.6" r="1.7"/>
<circle cx="531.9" cy="171.9" r="1.7"/>
<circle cx="525.0" cy="173.8" r="1.7"/>
<circle cx="535.0" cy="177.5" r="1.7"/>
<circle cx="546.2" cy="178.5" r="1.7"/>
<circle cx="550.9" cy="180.6" r="1.7"/>
<circle cx="522.5" cy="175.6" r="1.7"/>
<circle cx="528.1" cy="175.0" r="1.7"/>
<circle cx="511.0" cy="133.0" r="1.7"/>
<circle cx="509.0" cy="138.0" r="1.7"/>
<circle cx="512.0" cy="144.0" r="1.7"/>
<circle cx="510.5" cy="149.0" r="1.7"/>
<circle cx="512.0" cy="158.0" r="1.7"/>
<circle cx="514.0" cy="166.0" r="1.7"/>
<circle cx="516.0" cy="172.0" r="1.7"/>
<circle cx="517.0" cy="178.0" r="1.7"/>
<circle cx="519.0" cy="182.0" r="1.7"/>
<circle cx="515.0" cy="178.0" r="1.7"/>
<circle cx="512.0" cy="170.0" r="1.7"/>
<circle cx="510.0" cy="165.0" r="1.7"/>
<circle cx="509.0" cy="155.0" r="1.7"/>
<circle cx="508.0" cy="145.0" r="1.7"/>
<circle cx="507.0" cy="132.0" r="1.7"/>
<circle cx="503.0" cy="132.0" r="1.7"/>
<circle cx="498.0" cy="127.0" r="1.7"/>
<circle cx="501.0" cy="125.0" r="1.7"/>
<circle cx="506.0" cy="124.0" r="1.7"/>
<circle cx="510.0" cy="117.0" r="1.7"/>
<circle cx="507.0" cy="113.0" r="1.7"/>
<circle cx="502.0" cy="106.0" r="1.7"/>
<circle cx="497.0" cy="134.0" r="1.7"/>
<circle cx="495.0" cy="138.0" r="1.7"/>
<circle cx="555.0" cy="190.9" r="1.7"/>
<circle cx="556.9" cy="190.0" r="1.7"/>
<circle cx="565.6" cy="191.8" r="1.7"/>
<circle cx="568.5" cy="197.5" r="1.7"/>
<circle cx="535.0" cy="191.2" r="1.7"/>
<circle cx="535.6" cy="196.5" r="1.7"/>
<circle cx="530.0" cy="187.1" r="1.7"/>
<circle cx="525.0" cy="189.6" r="1.7"/>
<circle cx="525.6" cy="186.5" r="1.7"/>
<circle cx="518.8" cy="188.4" r="1.7"/>
<circle cx="521.9" cy="194.0" r="1.7"/>
<circle cx="526.9" cy="196.5" r="1.7"/>
<circle cx="525.0" cy="198.8" r="1.7"/>
<circle cx="527.5" cy="202.8" r="1.7"/>
<circle cx="517.5" cy="195.9" r="1.7"/>
<circle cx="532.5" cy="205.2" r="1.7"/>
<circle cx="531.9" cy="207.8" r="1.7"/>
<circle cx="539.4" cy="207.1" r="1.7"/>
<circle cx="542.5" cy="209.0" r="1.7"/>
<circle cx="538.1" cy="210.9" r="1.7"/>
<circle cx="533.1" cy="214.6" r="1.7"/>
<circle cx="523.8" cy="209.6" r="1.7"/>
<circle cx="520.6" cy="205.2" r="1.7"/>
<circle cx="516.2" cy="205.9" r="1.7"/>
<circle cx="517.5" cy="212.8" r="1.7"/>
<circle cx="520.6" cy="218.4" r="1.7"/>
<circle cx="550.6" cy="212.1" r="1.7"/>
<circle cx="552.8" cy="213.4" r="1.7"/>
<circle cx="548.1" cy="216.5" r="1.7"/>
<circle cx="548.8" cy="222.8" r="1.7"/>
<circle cx="553.5" cy="228.4" r="1.7"/>
<circle cx="553.1" cy="236.5" r="1.7"/>
<circle cx="556.6" cy="247.4" r="1.7"/>
<circle cx="550.8" cy="249.0" r="1.7"/>
<circle cx="535.0" cy="227.1" r="1.7"/>
<circle cx="536.9" cy="226.8" r="1.7"/>
<circle cx="531.0" cy="232.1" r="1.7"/>
<circle cx="522.5" cy="226.5" r="1.7"/>
<circle cx="523.1" cy="227.8" r="1.7"/>
<circle cx="524.4" cy="234.4" r="1.7"/>
<circle cx="527.5" cy="238.0" r="1.7"/>
<circle cx="513.1" cy="226.5" r="1.7"/>
<circle cx="516.5" cy="228.6" r="1.7"/>
<circle cx="511.2" cy="233.1" r="1.7"/>
<circle cx="505.6" cy="225.9" r="1.7"/>
<circle cx="506.9" cy="222.8" r="1.7"/>
<circle cx="496.9" cy="220.2" r="1.7"/>
<circle cx="499.4" cy="222.8" r="1.7"/>
<circle cx="496.9" cy="227.8" r="1.7"/>
<circle cx="500.0" cy="229.0" r="1.7"/>
<circle cx="503.1" cy="232.1" r="1.7"/>
<circle cx="495.0" cy="232.8" r="1.7"/>
<circle cx="497.5" cy="236.5" r="1.7"/>
<circle cx="503.1" cy="237.1" r="1.7"/>
<circle cx="510.0" cy="240.9" r="1.7"/>
<circle cx="513.1" cy="242.8" r="1.7"/>
<circle cx="516.2" cy="243.8" r="1.7"/>
<circle cx="515.0" cy="247.8" r="1.7"/>
<circle cx="510.0" cy="249.0" r="1.7"/>
<circle cx="516.9" cy="251.5" r="1.7"/>
<circle cx="503.8" cy="251.8" r="1.7"/>
<circle cx="506.9" cy="255.9" r="1.7"/>
<circle cx="504.4" cy="258.4" r="1.7"/>
<circle cx="513.8" cy="257.8" r="1.7"/>
<circle cx="510.0" cy="262.1" r="1.7"/>
<circle cx="505.0" cy="264.0" r="1.7"/>
<circle cx="497.2" cy="263.1" r="1.7"/>
<circle cx="517.5" cy="263.0" r="1.7"/>
<circle cx="523.5" cy="257.5" r="1.7"/>
<circle cx="529.5" cy="250.6" r="1.7"/>
<circle cx="525.0" cy="263.6" r="1.7"/>
<circle cx="528.1" cy="262.5" r="1.7"/>
<circle cx="535.2" cy="258.8" r="1.7"/>
<circle cx="540.6" cy="262.1" r="1.7"/>
<circle cx="542.5" cy="255.2" r="1.7"/>
<circle cx="549.6" cy="263.1" r="1.7"/>
<circle cx="511.2" cy="266.5" r="1.7"/>
<circle cx="513.8" cy="265.9" r="1.7"/>
<circle cx="510.6" cy="215.2" r="1.7"/>
<circle cx="508.1" cy="217.8" r="1.7"/>
<circle cx="512.5" cy="220.9" r="1.7"/>
<circle cx="490.6" cy="212.1" r="1.7"/>
<circle cx="500.0" cy="216.5" r="1.7"/>
<circle cx="502.5" cy="212.8" r="1.7"/>
<circle cx="506.2" cy="210.2" r="1.7"/>
<circle cx="511.2" cy="209.0" r="1.7"/>
<circle cx="514.4" cy="202.8" r="1.7"/>
<circle cx="505.9" cy="270.9" r="1.7"/>
<circle cx="549.0" cy="269.4" r="1.7"/>
<circle cx="510.0" cy="266.2" r="1.7"/>
<circle cx="516.0" cy="186.0" r="1.7"/>
<circle cx="518.0" cy="191.0" r="1.7"/>
<circle cx="519.0" cy="197.0" r="1.7"/>
<circle cx="516.0" cy="199.0" r="1.7"/>
<circle cx="514.0" cy="207.0" r="1.7"/>
<circle cx="511.0" cy="213.0" r="1.7"/>
<circle cx="507.0" cy="216.0" r="1.7"/>
<circle cx="503.0" cy="219.0" r="1.7"/>
<circle cx="501.0" cy="223.0" r="1.7"/>
<circle cx="508.0" cy="224.0" r="1.7"/>
<circle cx="503.0" cy="227.0" r="1.7"/>
<circle cx="499.0" cy="232.0" r="1.7"/>
</g>
<g fill="#03396c" fill-opacity="0.85" stroke="#011f4b" stroke-opacity="0.93" stroke-width="2">
<circle cx="233.6" cy="599.1" r="1.7"/>
<circle cx="214.9" cy="606.3" r="1.7"/>
<circle cx="220.0" cy="595.9" r="1.7"/>
<circle cx="222.5" cy="595.2" r="1.7"/>
<circle cx="211.7" cy="596.7" r="1.7"/>
<circle cx="230.6" cy="593.6" r="1.7"/>
<circle cx="207.3" cy="598.6" r="1.7"/>
<circle cx="206.9" cy="594.1" r="1.7"/>
<circle cx="215.0" cy="596.4" r="1.7"/>
<circle cx="192.9" cy="593.8" r="1.7"/>
<circle cx="190.1" cy="598.9" r="1.7"/>
<circle cx="220.7" cy="589.7" r="1.7"/>
<circle cx="244.4" cy="594.2" r="1.7"/>
<circle cx="209.9" cy="605.3" r="1.7"/>
<circle cx="219.5" cy="597.4" r="1.7"/>
<circle cx="216.2" cy="597.8" r="1.7"/>
<circle cx="228.0" cy="595.4" r="1.7"/>
<circle cx="205.0" cy="599.3" r="1.7"/>
<circle cx="204.6" cy="606.0" r="1.7"/>
<circle cx="227.4" cy="598.0" r="1.7"/>
<circle cx="186.9" cy="595.1" r="1.7"/>
<circle cx="208.1" cy="598.7" r="1.7"/>
<circle cx="220.2" cy="604.7" r="1.7"/>
<circle cx="247.5" cy="597.2" r="1.7"/>
<circle cx="210.8" cy="599.9" r="1.7"/>
<circle cx="217.1" cy="603.5" r="1.7"/>
<circle cx="192.0" cy="594.0" r="1.7"/>
<circle cx="215.9" cy="590.1" r="1.7"/>
<circle cx="242.6" cy="601.1" r="1.7"/>
<circle cx="242.2" cy="596.0" r="1.7"/>
<circle cx="190.9" cy="593.5" r="1.7"/>
<circle cx="215.8" cy="597.6" r="1.7"/>
<circle cx="193.2" cy="591.5" r="1.7"/>
<circle cx="224.1" cy="599.5" r="1.7"/>
<circle cx="208.8" cy="603.0" r="1.7"/>
<circle cx="201.5" cy="601.1" r="1.7"/>
<circle cx="239.0" cy="599.1" r="1.7"/>
<circle cx="226.8" cy="591.7" r="1.7"/>
<circle cx="214.9" cy="598.5" r="1.7"/>
<circle cx="198.6" cy="600.3" r="1.7"/>
<circle cx="220.2" cy="595.8" r="1.7"/>
<circle cx="188.5" cy="591.0" r="1.7"/>
<circle cx="233.2" cy="590.0" r="1.7"/>
<circle cx="187.0" cy="591.2" r="1.7"/>
<circle cx="216.6" cy="603.6" r="1.7"/>
<circle cx="222.9" cy="603.3" r="1.7"/>
<circle cx="233.9" cy="594.1" r="1.7"/>
<circle cx="230.1" cy="594.7" r="1.7"/>
<circle cx="191.9" cy="593.1" r="1.7"/>
<circle cx="220.8" cy="594.6" r="1.7"/>
<circle cx="211.5" cy="595.3" r="1.7"/>
<circle cx="210.8" cy="599.8" r="1.7"/>
<circle cx="202.0" cy="605.1" r="1.7"/>
<circle cx="237.1" cy="593.8" r="1.7"/>
<circle cx="214.7" cy="606.0" r="1.7"/>
<circle cx="197.0" cy="595.4" r="1.7"/>
<circle cx="230.3" cy="592.2" r="1.7"/>
<circle cx="201.6" cy="604.6" r="1.7"/>
<circle cx="213.9" cy="603.1" r="1.7"/>
<circle cx="197.0" cy="591.3" r="1.7"/>
<circle cx="205.1" cy="591.5" r="1.7"/>
<circle cx="219.3" cy="590.2" r="1.7"/>
<circle cx="217.4" cy="595.3" r="1.7"/>
<circle cx="208.2" cy="589.2" r="1.7"/>
<circle cx="204.6" cy="592.7" r="1.7"/>
<circle cx="193.4" cy="593.4" r="1.7"/>
<circle cx="226.5" cy="594.5" r="1.7"/>
<circle cx="190.9" cy="601.4" r="1.7"/>
<circle cx="186.5" cy="593.1" r="1.7"/>
<circle cx="238.5" cy="590.4" r="1.7"/>
<circle cx="211.0" cy="603.9" r="1.7"/>
<circle cx="236.3" cy="591.0" r="1.7"/>
<circle cx="204.7" cy="601.7" r="1.7"/>
<circle cx="206.4" cy="606.2" r="1.7"/>
<circle cx="215.3" cy="592.3" r="1.7"/>
<circle cx="211.7" cy="590.5" r="1.7"/>
<circle cx="229.5" cy="593.0" r="1.7"/>
<circle cx="243.0" cy="599.2" r="1.7"/>
<circle cx="205.8" cy="592.7" r="1.7"/>
<circle cx="222.6" cy="592.0" r="1.7"/>
<circle cx="215.9" cy="598.3" r="1.7"/>
<circle cx="198.9" cy="602.7" r="1.7"/>
<circle cx="206.9" cy="600.5" r="1.7"/>
<circle cx="219.7" cy="593.9" r="1.7"/>
<circle cx="207.3" cy="589.6" r="1.7"/>
<circle cx="202.5" cy="600.6" r="1.7"/>
<circle cx="187.6" cy="598.7" r="1.7"/>
<circle cx="205.3" cy="597.5" r="1.7"/>
<circle cx="200.8" cy="589.3" r="1.7"/>
<circle cx="201.8" cy="592.3" r="1.7"/>
<circle cx="188.8" cy="601.6" r="1.7"/>
<circle cx="199.8" cy="595.7" r="1.7"/>
<circle cx="189.3" cy="593.3" r="1.7"/>
<circle cx="182.1" cy="600.9" r="1.7"/>
<circle cx="226.5" cy="594.7" r="1.7"/>
<circle cx="208.9" cy="600.5" r="1.7"/>
<circle cx="228.9" cy="592.7" r="1.7"/>
<circle cx="239.3" cy="594.7" r="1.7"/>
<circle cx="224.0" cy="591.5" r="1.7"/>
<circle cx="231.4" cy="601.5" r="1.7"/>
<circle cx="191.3" cy="591.8" r="1.7"/>
<circle cx="201.2" cy="595.2" r="1.7"/>
<circle cx="182.7" cy="593.9" r="1.7"/>
<circle cx="224.7" cy="591.4" r="1.7"/>
<circle cx="238.8" cy="598.8" r="1.7"/>
<circle cx="230.2" cy="592.8" r="1.7"/>
<circle cx="210.4" cy="601.0" r="1.7"/>
<circle cx="238.4" cy="602.8" r="1.7"/>
<circle cx="239.8" cy="599.5" r="1.7"/>
<circle cx="183.3" cy="592.6" r="1.7"/>
<circle cx="187.8" cy="603.0" r="1.7"/>
<circle cx="232.5" cy="589.6" r="1.7"/>
<circle cx="228.6" cy="595.5" r="1.7"/>
<circle cx="232.3" cy="603.7" r="1.7"/>
<circle cx="199.7" cy="589.7" r="1.7"/>
<circle cx="246.2" cy="596.1" r="1.7"/>
<circle cx="245.1" cy="601.1" r="1.7"/>
<circle cx="231.7" cy="603.8" r="1.7"/>
<circle cx="224.0" cy="596.6" r="1.7"/>
<circle cx="183.8" cy="601.3" r="1.7"/>
<circle cx="210.0" cy="597.7" r="1.7"/>
<circle cx="229.2" cy="603.3" r="1.7"/>
<circle cx="198.3" cy="598.4" r="1.7"/>
<circle cx="247.9" cy="600.1" r="1.7"/>
<circle cx="218.1" cy="592.7" r="1.7"/>
<circle cx="184.2" cy="594.8" r="1.7"/>
<circle cx="208.8" cy="591.8" r="1.7"/>
<circle cx="201.7" cy="590.6" r="1.7"/>
<circle cx="229.5" cy="600.7" r="1.7"/>
<circle cx="196.7" cy="592.6" r="1.7"/>
<circle cx="216.1" cy="596.5" r="1.7"/>
<circle cx="245.5" cy="594.7" r="1.7"/>
<circle cx="201.0" cy="604.8" r="1.7"/>
<circle cx="189.9" cy="598.7" r="1.7"/>
<circle cx="203.4" cy="603.5" r="1.7"/>
<circle cx="218.4" cy="602.4" r="1.7"/>
<circle cx="191.8" cy="600.7" r="1.7"/>
<circle cx="221.9" cy="596.8" r="1.7"/>
<circle cx="233.6" cy="603.8" r="1.7"/>
<circle cx="188.0" cy="593.5" r="1.7"/>
<circle cx="205.2" cy="591.9" r="1.7"/>
<circle cx="184.2" cy="593.3" r="1.7"/>
<circle cx="193.8" cy="601.3" r="1.7"/>
<circle cx="211.4" cy="590.1" r="1.7"/>
<circle cx="202.7" cy="596.9" r="1.7"/>
<circle cx="205.4" cy="591.2" r="1.7"/>
<circle cx="185.9" cy="601.6" r="1.7"/>
<circle cx="248.6" cy="598.7" r="1.7"/>
<circle cx="187.6" cy="597.3" r="1.7"/>
<circle cx="210.4" cy="591.6" r="1.7"/>
<circle cx="244.4" cy="600.2" r="1.7"/>
<circle cx="225.7" cy="592.8" r="1.7"/>
<circle cx="197.2" cy="590.6" r="1.7"/>
<circle cx="238.8" cy="593.6" r="1.7"/>
<circle cx="193.0" cy="600.1" r="1.7"/>
<circle cx="191.8" cy="602.9" r="1.7"/>
<circle cx="238.1" cy="602.1" r="1.7"/>
<circle cx="202.9" cy="591.5" r="1.7"/>
<circle cx="237.8" cy="594.1" r="1.7"/>
<circle cx="205.8" cy="598.5" r="1.7"/>
<circle cx="205.8" cy="603.8" r="1.7"/>
<circle cx="219.7" cy="599.9" r="1.7"/>
<circle cx="237.4" cy="601.4" r="1.7"/>
<circle cx="214.6" cy="597.5" r="1.7"/>
<circle cx="191.0" cy="593.7" r="1.7"/>
<circle cx="220.7" cy="589.5" r="1.7"/>
<circle cx="228.2" cy="591.1" r="1.7"/>
<circle cx="211.0" cy="606.4" r="1.7"/>
<circle cx="210.8" cy="591.6" r="1.7"/>
<circle cx="235.1" cy="596.1" r="1.7"/>
<circle cx="199.8" cy="600.6" r="1.7"/>
<circle cx="216.0" cy="596.0" r="1.7"/>
<circle cx="203.7" cy="596.3" r="1.7"/>
<circle cx="226.6" cy="603.7" r="1.7"/>
<circle cx="200.7" cy="596.4" r="1.7"/>
<circle cx="219.4" cy="594.6" r="1.7"/>
<circle cx="202.7" cy="596.7" r="1.7"/>
<circle cx="247.3" cy="599.8" r="1.7"/>
<circle cx="227.4" cy="599.6" r="1.7"/>
<circle cx="200.8" cy="598.9" r="1.7"/>
<circle cx="246.7" cy="597.1" r="1.7"/>
<circle cx="225.3" cy="593.7" r="1.7"/>
<circle cx="204.0" cy="604.8" r="1.7"/>
<circle cx="227.5" cy="596.5" r="1.7"/>
<circle cx="186.0" cy="600.5" r="1.7"/>
<circle cx="206.0" cy="599.0" r="1.7"/>
<circle cx="209.1" cy="598.1" r="1.7"/>
<circle cx="219.5" cy="595.5" r="1.7"/>
<circle cx="188.0" cy="591.4" r="1.7"/>
<circle cx="242.3" cy="598.4" r="1.7"/>
<circle cx="197.7" cy="589.8" r="1.7"/>
<circle cx="217.2" cy="592.8" r="1.7"/>
<circle cx="214.2" cy="598.5" r="1.7"/>
<circle cx="195.9" cy="598.9" r="1.7"/>
<circle cx="187.9" cy="597.8" r="1.7"/>
<circle cx="221.2" cy="589.5" r="1.7"/>
<circle cx="208.6" cy="589.4" r="1.7"/>
<circle cx="210.8" cy="604.4" r="1.7"/>
<circle cx="218.5" cy="601.6" r="1.7"/>
<circle cx="233.0" cy="590.2" r="1.7"/>
<circle cx="207.4" cy="591.3" r="1.7"/>
<circle cx="247.2" cy="598.7" r="1.7"/>
<circle cx="234.2" cy="590.6" r="1.7"/>
<circle cx="196.6" cy="595.1" r="1.7"/>
<circle cx="181.1" cy="599.3" r="1.7"/>
<circle cx="194.9" cy="593.7" r="1.7"/>
<circle cx="229.5" cy="596.1" r="1.7"/>
<circle cx="242.2" cy="599.8" r="1.7"/>
<circle cx="241.0" cy="598.7" r="1.7"/>
<circle cx="191.8" cy="602.2" r="1.7"/>
<circle cx="203.9" cy="602.5" r="1.7"/>
<circle cx="227.6" cy="603.7" r="1.7"/>
<circle cx="188.6" cy="595.1" r="1.7"/>
<circle cx="222.3" cy="589.9" r="1.7"/>
<circle cx="218.4" cy="603.3" r="1.7"/>
<circle cx="227.3" cy="592.8" r="1.7"/>
<circle cx="193.5" cy="596.5" r="1.7"/>
<circle cx="238.7" cy="599.0" r="1.7"/>
<circle cx="187.7" cy="603.2" r="1.7"/>
<circle cx="193.0" cy="598.5" r="1.7"/>
<circle cx="200.3" cy="601.1" r="1.7"/>
<circle cx="206.7" cy="590.7" r="1.7"/>
<circle cx="241.3" cy="598.2" r="1.7"/>
<circle cx="228.3" cy="603.4" r="1.7"/>
<circle cx="204.0" cy="590.9" r="1.7"/>
<circle cx="215.1" cy="604.6" r="1.7"/>
<circle cx="192.8" cy="603.5" r="1.7"/>
<circle cx="227.6" cy="595.5" r="1.7"/>
<circle cx="213.3" cy="591.0" r="1.7"/>
<circle cx="239.2" cy="595.5" r="1.7"/>
<circle cx="241.1" cy="599.6" r="1.7"/>
<circle cx="185.3" cy="594.3" r="1.7"/>
<circle cx="221.2" cy="588.8" r="1.7"/>
<circle cx="191.9" cy="594.9" r="1.7"/>
<circle cx="212.7" cy="599.0" r="1.7"/>
<circle cx="207.2" cy="594.7" r="1.7"/>
<circle cx="180.4" cy="599.0" r="1.7"/>
<circle cx="212.2" cy="606.7" r="1.7"/>
<circle cx="227.0" cy="593.2" r="1.7"/>
<circle cx="199.1" cy="597.5" r="1.7"/>
<circle cx="198.3" cy="598.8" r="1.7"/>
<circle cx="217.0" cy="606.2" r="1.7"/>
<circle cx="219.2" cy="602.6" r="1.7"/>
<circle cx="224.3" cy="600.1" r="1.7"/>
<circle cx="205.4" cy="593.4" r="1.7"/>
<circle cx="245.7" cy="600.9" r="1.7"/>
<circle cx="201.3" cy="602.5" r="1.7"/>
<circle cx="231.8" cy="597.7" r="1.7"/>
<circle cx="224.5" cy="594.7" r="1.7"/>
<circle cx="218.6" cy="595.7" r="1.7"/>
<circle cx="184.2" cy="594.4" r="1.7"/>
<circle cx="213.7" cy="595.0" r="1.7"/>
<circle cx="197.0" cy="592.5" r="1.7"/>
<circle cx="204.4" cy="590.6" r="1.7"/>
<circle cx="211.7" cy="596.5" r="1.7"/>
<circle cx="219.8" cy="593.7" r="1.7"/>
<circle cx="201.1" cy="593.9" r="1.7"/>
<circle cx="230.9" cy="598.5" r="1.7"/>
<circle cx="245.6" cy="594.5" r="1.7"/>
<circle cx="244.5" cy="599.1" r="1.7"/>
<circle cx="185.6" cy="591.4" r="1.7"/>
<circle cx="205.0" cy="602.7" r="1.7"/>
<circle cx="210.0" cy="604.5" r="1.7"/>
<circle cx="184.7" cy="597.2" r="1.7"/>
<circle cx="242.9" cy="593.2" r="1.7"/>
<circle cx="191.5" cy="593.1" r="1.7"/>
<circle cx="229.3" cy="592.1" r="1.7"/>
<circle cx="208.0" cy="591.8" r="1.7"/>
<circle cx="222.2" cy="604.4" r="1.7"/>
<circle cx="225.4" cy="591.7" r="1.7"/>
<circle cx="222.1" cy="589.5" r="1.7"/>
<circle cx="203.9" cy="590.6" r="1.7"/>
<circle cx="193.2" cy="598.2" r="1.7"/>
<circle cx="241.3" cy="600.2" r="1.7"/>
<circle cx="244.6" cy="592.0" r="1.7"/>
<circle cx="202.9" cy="602.2" r="1.7"/>
<circle cx="225.4" cy="595.7" r="1.7"/>
<circle cx="227.5" cy="594.4" r="1.7"/>
<circle cx="184.0" cy="595.9" r="1.7"/>
<circle cx="183.2" cy="599.9" r="1.7"/>
<circle cx="203.4" cy="597.4" r="1.7"/>
<circle cx="221.8" cy="592.9" r="1.7"/>
<circle cx="212.4" cy="588.3" r="1.7"/>
<circle cx="244.8" cy="598.7" r="1.7"/>
<circle cx="223.0" cy="601.8" r="1.7"/>
<circle cx="203.0" cy="589.8" r="1.7"/>
<circle cx="190.9" cy="590.7" r="1.7"/>
<circle cx="233.7" cy="589.7" r="1.7"/>
<circle cx="237.0" cy="596.0" r="1.7"/>
<circle cx="217.7" cy="599.2" r="1.7"/>
<circle cx="218.8" cy="600.5" r="1.7"/>
<circle cx="222.1" cy="594.3" r="1.7"/>
<circle cx="231.9" cy="592.9" r="1.7"/>
<circle cx="229.8" cy="602.5" r="1.7"/>
<circle cx="234.3" cy="593.9" r="1.7"/>
<circle cx="211.7" cy="593.3" r="1.7"/>
<circle cx="216.6" cy="605.9" r="1.7"/>
<circle cx="213.3" cy="600.5" r="1.7"/>
<circle cx="234.2" cy="594.9" r="1.7"/>
<circle cx="233.0" cy="589.7" r="1.7"/>
<circle cx="184.2" cy="597.5" r="1.7"/>
<circle cx="218.9" cy="591.5" r="1.7"/>
<circle cx="245.8" cy="594.9" r="1.7"/>
<circle cx="190.5" cy="591.4" r="1.7"/>
<circle cx="234.5" cy="592.6" r="1.7"/>
<circle cx="248.8" cy="597.5" r="1.7"/>
<circle cx="224.5" cy="594.5" r="1.7"/>
<circle cx="236.0" cy="596.7" r="1.7"/>
<circle cx="202.7" cy="605.2" r="1.7"/>
<circle cx="187.5" cy="601.9" r="1.7"/>
<circle cx="184.6" cy="600.3" r="1.7"/>
<circle cx="208.1" cy="604.4" r="1.7"/>
<circle cx="184.2" cy="598.7" r="1.7"/>
<circle cx="208.7" cy="605.5" r="1.7"/>
<circle cx="246.1" cy="599.9" r="1.7"/>
<circle cx="195.7" cy="592.8" r="1.7"/>
<circle cx="198.4" cy="596.2" r="1.7"/>
<circle cx="196.2" cy="591.9" r="1.7"/>
<circle cx="233.1" cy="600.2" r="1.7"/>
<circle cx="195.2" cy="598.8" r="1.7"/>
<circle cx="240.8" cy="593.1" r="1.7"/>
<circle cx="232.6" cy="603.6" r="1.7"/>
<circle cx="199.8" cy="594.3" r="1.7"/>
<circle cx="214.0" cy="604.9" r="1.7"/>
<circle cx="191.3" cy="601.0" r="1.7"/>
<circle cx="221.8" cy="596.6" r="1.7"/>
<circle cx="220.5" cy="604.8" r="1.7"/>
<circle cx="205.2" cy="602.8" r="1.7"/>
<circle cx="240.4" cy="591.5" r="1.7"/>
<circle cx="190.6" cy="602.0" r="1.7"/>
<circle cx="186.8" cy="591.2" r="1.7"/>
<circle cx="227.8" cy="589.7" r="1.7"/>
<circle cx="203.8" cy="605.5" r="1.7"/>
<circle cx="196.4" cy="603.1" r="1.7"/>
<circle cx="215.3" cy="592.4" r="1.7"/>
<circle cx="210.1" cy="590.0" r="1.7"/>
<circle cx="202.2" cy="604.7" r="1.7"/>
<circle cx="188.4" cy="597.3" r="1.7"/>
<circle cx="189.5" cy="596.1" r="1.7"/>
<circle cx="192.5" cy="601.0" r="1.7"/>
<circle cx="190.4" cy="602.0" r="1.7"/>
<circle cx="215.1" cy="590.1" r="1.7"/>
<circle cx="204.8" cy="597.4" r="1.7"/>
<circle cx="244.3" cy="594.6" r="1.7"/>
<circle cx="241.8" cy="601.9" r="1.7"/>
<circle cx="199.1" cy="591.4" r="1.7"/>
<circle cx="198.5" cy="589.3" r="1.7"/>
<circle cx="183.0" cy="597.7" r="1.7"/>
<circle cx="208.6" cy="598.6" r="1.7"/>
<circle cx="228.2" cy="600.4" r="1.7"/>
<circle cx="218.1" cy="598.4" r="1.7"/>
<circle cx="241.2" cy="601.6" r="1.7"/>
<circle cx="207.9" cy="594.0" r="1.7"/>
<circle cx="209.3" cy="606.5" r="1.7"/>
<circle cx="207.1" cy="595.3" r="1.7"/>
<circle cx="208.7" cy="590.7" r="1.7"/>
<circle cx="222.5" cy="605.6" r="1.7"/>
<circle cx="197.8" cy="599.6" r="1.7"/>
<circle cx="206.4" cy="592.6" r="1.7"/>
<circle cx="193.9" cy="590.2" r="1.7"/>
<circle cx="228.6" cy="594.2" r="1.7"/>
<circle cx="225.2" cy="598.4" r="1.7"/>
<circle cx="239.7" cy="597.7" r="1.7"/>
<circle cx="196.4" cy="600.0" r="1.7"/>
<circle cx="232.0" cy="595.2" r="1.7"/>
<circle cx="229.9" cy="595.5" r="1.7"/>
<circle cx="216.8" cy="599.6" r="1.7"/>
<circle cx="227.4" cy="594.1" r="1.7"/>
<circle cx="224.0" cy="598.3" r="1.7"/>
<circle cx="195.6" cy="599.6" r="1.7"/>
<circle cx="213.1" cy="601.7" r="1.7"/>
<circle cx="216.5" cy="597.1" r="1.7"/>
<circle cx="195.5" cy="590.7" r="1.7"/>
<circle cx="244.9" cy="598.0" r="1.7"/>
<circle cx="216.7" cy="598.0" r="1.7"/>
<circle cx="236.9" cy="592.5" r="1.7"/>
<circle cx="212.2" cy="600.2" r="1.7"/>
<circle cx="206.7" cy="603.8" r="1.7"/>
<circle cx="237.2" cy="590.3" r="1.7"/>
<circle cx="190.8" cy="592.8" r="1.7"/>
<circle cx="187.2" cy="594.8" r="1.7"/>
<circle cx="236.2" cy="597.9" r="1.7"/>
<circle cx="211.7" cy="589.7" r="1.7"/>
<circle cx="228.7" cy="596.5" r="1.7"/>
<circle cx="213.5" cy="603.2" r="1.7"/>
<circle cx="233.1" cy="590.8" r="1.7"/>
<circle cx="227.6" cy="595.0" r="1.7"/>
<circle cx="216.4" cy="592.5" r="1.7"/>
<circle cx="206.0" cy="594.5" r="1.7"/>
<circle cx="194.1" cy="598.8" r="1.7"/>
<circle cx="230.3" cy="593.2" r="1.7"/>
<circle cx="202.7" cy="592.6" r="1.7"/>
<circle cx="224.5" cy="604.3" r="1.7"/>
<circle cx="194.1" cy="596.0" r="1.7"/>
<circle cx="235.5" cy="599.7" r="1.7"/>
<circle cx="206.0" cy="588.8" r="1.7"/>
<circle cx="211.0" cy="595.0" r="1.7"/>
<circle cx="229.9" cy="593.6" r="1.7"/>
<circle cx="208.6" cy="600.3" r="1.7"/>
<circle cx="236.8" cy="594.7" r="1.7"/>
<circle cx="207.0" cy="599.0" r="1.7"/>
<circle cx="206.1" cy="600.6" r="1.7"/>
<circle cx="203.1" cy="589.3" r="1.7"/>
<circle cx="232.9" cy="595.2" r="1.7"/>
<circle cx="216.8" cy="597.4" r="1.7"/>
<circle cx="181.8" cy="599.3" r="1.7"/>
<circle cx="212.4" cy="596.8" r="1.7"/>
<circle cx="238.8" cy="595.9" r="1.7"/>
<circle cx="213.2" cy="604.9" r="1.7"/>
<circle cx="210.8" cy="597.3" r="1.7"/>
<circle cx="215.8" cy="603.7" r="1.7"/>
<circle cx="226.9" cy="602.1" r="1.7"/>
<circle cx="208.1" cy="588.8" r="1.7"/>
<circle cx="227.6" cy="598.5" r="1.7"/>
<circle cx="233.8" cy="602.6" r="1.7"/>
<circle cx="188.3" cy="592.2" r="1.7"/>
<circle cx="232.7" cy="598.7" r="1.7"/>
<circle cx="183.9" cy="600.9" r="1.7"/>
<circle cx="229.8" cy="597.2" r="1.7"/>
<circle cx="183.8" cy="601.1" r="1.7"/>
<circle cx="209.3" cy="599.1" r="1.7"/>
<circle cx="241.0" cy="590.8" r="1.7"/>
<circle cx="203.4" cy="597.8" r="1.7"/>
<circle cx="199.2" cy="593.0" r="1.7"/>
<circle cx="201.9" cy="592.8" r="1.7"/>
<circle cx="240.1" cy="598.6" r="1.7"/>
<circle cx="215.8" cy="596.0" r="1.7"/>
<circle cx="183.6" cy="593.8" r="1.7"/>
<circle cx="240.0" cy="592.9" r="1.7"/>
<circle cx="217.6" cy="595.1" r="1.7"/>
<circle cx="212.5" cy="597.3" r="1.7"/>
<circle cx="220.9" cy="594.9" r="1.7"/>
<circle cx="236.1" cy="591.8" r="1.7"/>
<circle cx="244.4" cy="598.6" r="1.7"/>
<circle cx="183.6" cy="594.0" r="1.7"/>
<circle cx="217.3" cy="595.8" r="1.7"/>
<circle cx="219.5" cy="594.1" r="1.7"/>
<circle cx="199.1" cy="603.1" r="1.7"/>
<circle cx="200.4" cy="601.5" r="1.7"/>
<circle cx="236.2" cy="599.2" r="1.7"/>
<circle cx="211.8" cy="605.8" r="1.7"/>
<circle cx="211.1" cy="604.7" r="1.7"/>
<circle cx="184.0" cy="596.2" r="1.7"/>
<circle cx="221.7" cy="591.4" r="1.7"/>
<circle cx="244.6" cy="598.7" r="1.7"/>
<circle cx="236.0" cy="597.5" r="1.7"/>
<circle cx="227.2" cy="600.8" r="1.7"/>
<circle cx="200.6" cy="592.0" r="1.7"/>
<circle cx="238.7" cy="590.8" r="1.7"/>
<circle cx="244.3" cy="591.9" r="1.7"/>
<circle cx="197.3" cy="583.4" r="1.7"/>
<circle cx="239.4" cy="584.0" r="1.7"/>
<circle cx="211.1" cy="584.7" r="1.7"/>
<circle cx="231.9" cy="585.5" r="1.7"/>
<circle cx="230.4" cy="584.0" r="1.7"/>
<circle cx="255.7" cy="585.6" r="1.7"/>
<circle cx="250.6" cy="583.9" r="1.7"/>
<circle cx="218.2" cy="582.8" r="1.7"/>
<circle cx="196.7" cy="586.9" r="1.7"/>
<circle cx="242.4" cy="586.6" r="1.7"/>
<circle cx="238.9" cy="583.6" r="1.7"/>
<circle cx="249.7" cy="583.7" r="1.7"/>
<circle cx="257.6" cy="587.5" r="1.7"/>
<circle cx="210.9" cy="585.8" r="1.7"/>
<circle cx="244.0" cy="587.2" r="1.7"/>
<circle cx="256.9" cy="583.4" r="1.7"/>
<circle cx="233.0" cy="587.6" r="1.7"/>
<circle cx="196.4" cy="583.8" r="1.7"/>
<circle cx="250.9" cy="584.7" r="1.7"/>
<circle cx="256.6" cy="582.8" r="1.7"/>
<circle cx="237.3" cy="583.0" r="1.7"/>
<circle cx="211.5" cy="583.2" r="1.7"/>
<circle cx="230.3" cy="583.4" r="1.7"/>
<circle cx="232.9" cy="586.9" r="1.7"/>
<circle cx="192.4" cy="587.4" r="1.7"/>
<circle cx="215.4" cy="586.1" r="1.7"/>
<circle cx="237.7" cy="584.1" r="1.7"/>
<circle cx="252.9" cy="587.1" r="1.7"/>
<circle cx="200.7" cy="583.4" r="1.7"/>
<circle cx="253.3" cy="583.6" r="1.7"/>
<circle cx="225.7" cy="587.6" r="1.7"/>
<circle cx="198.5" cy="586.9" r="1.7"/>
<circle cx="226.5" cy="586.0" r="1.7"/>
<circle cx="204.2" cy="586.3" r="1.7"/>
<circle cx="204.6" cy="583.7" r="1.7"/>
<circle cx="201.1" cy="585.0" r="1.7"/>
<circle cx="192.2" cy="586.2" r="1.7"/>
<circle cx="227.3" cy="585.3" r="1.7"/>
<circle cx="254.1" cy="583.3" r="1.7"/>
<circle cx="231.7" cy="584.7" r="1.7"/>
<circle cx="241.2" cy="583.1" r="1.7"/>
<circle cx="260.8" cy="582.9" r="1.7"/>
<circle cx="172.4" cy="598.6" r="1.7"/>
<circle cx="176.3" cy="594.8" r="1.7"/>
<circle cx="176.2" cy="596.1" r="1.7"/>
<circle cx="178.8" cy="595.5" r="1.7"/>
<circle cx="168.1" cy="592.0" r="1.7"/>
<circle cx="164.9" cy="599.1" r="1.7"/>
<circle cx="173.6" cy="592.7" r="1.7"/>
<circle cx="166.9" cy="592.5" r="1.7"/>
<circle cx="164.0" cy="593.4" r="1.7"/>
<circle cx="169.6" cy="596.5" r="1.7"/>
<circle cx="175.6" cy="601.0" r="1.7"/>
<circle cx="175.0" cy="598.0" r="1.7"/>
<circle cx="164.0" cy="597.9" r="1.7"/>
<circle cx="176.9" cy="599.7" r="1.7"/>
<circle cx="161.8" cy="598.9" r="1.7"/>
<circle cx="167.0" cy="592.8" r="1.7"/>
<circle cx="179.3" cy="598.4" r="1.7"/>
<circle cx="174.9" cy="592.5" r="1.7"/>
<circle cx="176.6" cy="601.3" r="1.7"/>
<circle cx="178.1" cy="599.2" r="1.7"/>
<circle cx="176.6" cy="599.8" r="1.7"/>
<circle cx="171.8" cy="595.8" r="1.7"/>
<circle cx="259.2" cy="364.0" r="1.7"/>
<circle cx="254.8" cy="423.5" r="1.7"/>
<circle cx="211.8" cy="433.0" r="1.7"/>
<circle cx="214.0" cy="437.0" r="1.7"/>
<circle cx="201.0" cy="442.5" r="1.7"/>
<circle cx="211.5" cy="454.2" r="1.7"/>
<circle cx="219.8" cy="474.8" r="1.7"/>
<circle cx="204.5" cy="483.5" r="1.7"/>
<circle cx="235.8" cy="494.8" r="1.7"/>
<circle cx="171.8" cy="485.2" r="1.7"/>
<circle cx="173.2" cy="461.0" r="1.7"/>
<circle cx="161.4" cy="520.0" r="1.7"/>
<circle cx="180.1" cy="525.9" r="1.7"/>
<circle cx="192.5" cy="527.2" r="1.7"/>
<circle cx="174.1" cy="548.8" r="1.7"/>
<circle cx="134.4" cy="557.6" r="1.7"/>
<circle cx="162.0" cy="558.8" r="1.7"/>
<circle cx="169.9" cy="557.6" r="1.7"/>
<circle cx="181.1" cy="557.6" r="1.7"/>
<circle cx="169.1" cy="562.7" r="1.7"/>
<circle cx="162.2" cy="565.1" r="1.7"/>
<circle cx="151.0" cy="568.6" r="1.7"/>
<circle cx="167.2" cy="570.4" r="1.7"/>
<circle cx="173.2" cy="569.8" r="1.7"/>
<circle cx="177.0" cy="574.1" r="1.7"/>
<circle cx="156.6" cy="574.8" r="1.7"/>
<circle cx="152.5" cy="578.9" r="1.7"/>
<circle cx="151.6" cy="583.2" r="1.7"/>
<circle cx="106.8" cy="581.6" r="1.7"/>
<circle cx="119.5" cy="593.2" r="1.7"/>
<circle cx="154.1" cy="589.8" r="1.7"/>
<circle cx="154.3" cy="589.9" r="1.7"/>
<circle cx="171.6" cy="580.8" r="1.7"/>
<circle cx="169.1" cy="582.9" r="1.7"/>
<circle cx="164.1" cy="586.2" r="1.7"/>
<circle cx="167.9" cy="587.5" r="1.7"/>
<circle cx="177.5" cy="584.1" r="1.7"/>
<circle cx="179.5" cy="588.5" r="1.7"/>
<circle cx="177.9" cy="592.2" r="1.7"/>
<circle cx="164.1" cy="591.0" r="1.7"/>
<circle cx="191.6" cy="579.5" r="1.7"/>
<circle cx="188.5" cy="587.9" r="1.7"/>
<circle cx="152.2" cy="596.9" r="1.7"/>
<circle cx="154.1" cy="599.5" r="1.7"/>
<circle cx="157.2" cy="596.9" r="1.7"/>
<circle cx="160.4" cy="597.9" r="1.7"/>
<circle cx="162.2" cy="594.1" r="1.7"/>
<circle cx="164.1" cy="597.2" r="1.7"/>
<circle cx="166.0" cy="599.1" r="1.7"/>
<circle cx="168.5" cy="597.2" r="1.7"/>
<circle cx="171.0" cy="599.8" r="1.7"/>
<circle cx="173.5" cy="596.0" r="1.7"/>
<circle cx="175.4" cy="598.5" r="1.7"/>
<circle cx="175.4" cy="602.2" r="1.7"/>
<circle cx="171.0" cy="595.4" r="1.7"/>
<circle cx="167.2" cy="594.8" r="1.7"/>
<circle cx="181.0" cy="601.0" r="1.7"/>
<circle cx="183.5" cy="598.5" r="1.7"/>
<circle cx="186.0" cy="594.8" r="1.7"/>
<circle cx="188.5" cy="591.0" r="1.7"/>
<circle cx="183.5" cy="604.1" r="1.7"/>
<circle cx="187.2" cy="605.4" r="1.7"/>
<circle cx="191.0" cy="602.2" r="1.7"/>
<circle cx="189.8" cy="597.2" r="1.7"/>
<circle cx="186.0" cy="599.8" r="1.7"/>
<circle cx="202.0" cy="537.5" r="1.7"/>
<circle cx="224.2" cy="536.3" r="1.7"/>
<circle cx="230.3" cy="534.8" r="1.7"/>
<circle cx="217.6" cy="542.9" r="1.7"/>
<circle cx="227.2" cy="543.8" r="1.7"/>
<circle cx="228.0" cy="550.4" r="1.7"/>
<circle cx="244.2" cy="548.9" r="1.7"/>
<circle cx="273.4" cy="544.8" r="1.7"/>
<circle cx="244.8" cy="558.2" r="1.7"/>
<circle cx="248.0" cy="556.9" r="1.7"/>
<circle cx="255.5" cy="558.1" r="1.7"/>
<circle cx="241.4" cy="564.8" r="1.7"/>
<circle cx="224.8" cy="561.6" r="1.7"/>
<circle cx="228.2" cy="561.0" r="1.7"/>
<circle cx="211.4" cy="561.4" r="1.7"/>
<circle cx="200.1" cy="560.4" r="1.7"/>
<circle cx="198.9" cy="562.9" r="1.7"/>
<circle cx="195.8" cy="565.4" r="1.7"/>
<circle cx="196.8" cy="567.9" r="1.7"/>
<circle cx="203.5" cy="571.0" r="1.7"/>
<circle cx="222.6" cy="571.4" r="1.7"/>
<circle cx="233.9" cy="571.4" r="1.7"/>
<circle cx="238.5" cy="572.2" r="1.7"/>
<circle cx="236.4" cy="575.0" r="1.7"/>
<circle cx="245.5" cy="573.2" r="1.7"/>
<circle cx="267.9" cy="564.1" r="1.7"/>
<circle cx="263.9" cy="566.6" r="1.7"/>
<circle cx="261.4" cy="568.8" r="1.7"/>
<circle cx="265.1" cy="573.1" r="1.7"/>
<circle cx="264.5" cy="576.6" r="1.7"/>
<circle cx="268.2" cy="580.4" r="1.7"/>
<circle cx="266.4" cy="583.2" r="1.7"/>
<circle cx="279.9" cy="580.4" r="1.7"/>
<circle cx="278.9" cy="584.8" r="1.7"/>
<circle cx="273.9" cy="587.9" r="1.7"/>
<circle cx="278.2" cy="588.5" r="1.7"/>
<circle cx="284.5" cy="586.6" r="1.7"/>
<circle cx="287.0" cy="588.5" r="1.7"/>
<circle cx="269.2" cy="592.9" r="1.7"/>
<circle cx="270.1" cy="597.2" r="1.7"/>
<circle cx="277.0" cy="594.1" r="1.7"/>
<circle cx="277.6" cy="599.1" r="1.7"/>
<circle cx="282.0" cy="593.5" r="1.7"/>
<circle cx="283.9" cy="597.9" r="1.7"/>
<circle cx="287.6" cy="594.1" r="1.7"/>
<circle cx="200.1" cy="575.8" r="1.7"/>
<circle cx="200.5" cy="579.8" r="1.7"/>
<circle cx="193.2" cy="579.1" r="1.7"/>
<circle cx="206.4" cy="580.4" r="1.7"/>
<circle cx="215.1" cy="578.5" r="1.7"/>
<circle cx="215.1" cy="581.0" r="1.7"/>
<circle cx="210.8" cy="583.5" r="1.7"/>
<circle cx="222.0" cy="584.1" r="1.7"/>
<circle cx="234.5" cy="581.0" r="1.7"/>
<circle cx="232.0" cy="584.1" r="1.7"/>
<circle cx="242.0" cy="580.8" r="1.7"/>
<circle cx="250.1" cy="580.0" r="1.7"/>
<circle cx="256.4" cy="582.9" r="1.7"/>
<circle cx="245.8" cy="584.1" r="1.7"/>
<circle cx="250.1" cy="584.1" r="1.7"/>
<circle cx="237.0" cy="586.0" r="1.7"/>
<circle cx="257.0" cy="586.6" r="1.7"/>
<circle cx="260.8" cy="587.2" r="1.7"/>
<circle cx="263.9" cy="589.1" r="1.7"/>
<circle cx="260.1" cy="589.8" r="1.7"/>
<circle cx="254.5" cy="592.2" r="1.7"/>
<circle cx="257.0" cy="596.0" r="1.7"/>
<circle cx="262.0" cy="597.2" r="1.7"/>
<circle cx="258.9" cy="599.8" r="1.7"/>
<circle cx="249.5" cy="588.5" r="1.7"/>
<circle cx="248.9" cy="591.6" r="1.7"/>
<circle cx="329.6" cy="545.0" r="1.7"/>
<circle cx="345.2" cy="541.6" r="1.7"/>
<circle cx="303.4" cy="569.5" r="1.7"/>
<circle cx="309.2" cy="571.4" r="1.7"/>
<circle cx="308.6" cy="574.1" r="1.7"/>
<circle cx="326.8" cy="569.8" r="1.7"/>
<circle cx="329.9" cy="575.0" r="1.7"/>
<circle cx="334.5" cy="578.2" r="1.7"/>
<circle cx="335.5" cy="578.8" r="1.7"/>
<circle cx="345.6" cy="578.5" r="1.7"/>
<circle cx="355.6" cy="574.9" r="1.7"/>
<circle cx="303.2" cy="577.9" r="1.7"/>
<circle cx="304.9" cy="578.2" r="1.7"/>
<circle cx="309.9" cy="577.2" r="1.7"/>
<circle cx="312.4" cy="579.1" r="1.7"/>
<circle cx="314.9" cy="581.2" r="1.7"/>
<circle cx="310.5" cy="583.9" r="1.7"/>
<circle cx="328.9" cy="583.9" r="1.7"/>
<circle cx="322.8" cy="586.6" r="1.7"/>
<circle cx="323.4" cy="589.5" r="1.7"/>
<circle cx="293.6" cy="584.1" r="1.7"/>
<circle cx="297.4" cy="586.4" r="1.7"/>
<circle cx="303.9" cy="587.2" r="1.7"/>
<circle cx="302.6" cy="593.2" r="1.7"/>
<circle cx="302.8" cy="593.4" r="1.7"/>
<circle cx="313.2" cy="591.5" r="1.7"/>
<circle cx="212.1" cy="507.8" r="1.7"/>
<circle cx="202.0" cy="526.0" r="1.7"/>
<circle cx="235.9" cy="527.4" r="1.7"/>
<circle cx="212.0" cy="531.6" r="1.7"/>
</g>
<line x1="474" y1="16" x2="474" y2="284" stroke="#000" stroke-width="2.2"/>
<line x1="465.8" y1="44.45" x2="473" y2="44.45" stroke="#333" stroke-width="1.7"/>
<text x="459.5" y="53.85" text-anchor="end" class="t">2000</text>
<line x1="465.8" y1="109.2" x2="473" y2="109.2" stroke="#333" stroke-width="1.7"/>
<text x="459.5" y="118.60000000000001" text-anchor="end" class="t">1000</text>
<line x1="465.8" y1="173.95" x2="473" y2="173.95" stroke="#333" stroke-width="1.7"/>
<text x="459.5" y="183.35" text-anchor="end" class="t">0</text>
<line x1="465.8" y1="238.7" x2="473" y2="238.7" stroke="#333" stroke-width="1.7"/>
<text x="459.5" y="248.1" text-anchor="end" class="t">-1000</text>
<line x1="474" y1="283" x2="751.75" y2="283" stroke="#000" stroke-width="2.2"/>
<line x1="486.25" y1="284" x2="486.25" y2="290.9" stroke="#333" stroke-width="1.7"/>
<text x="486.25" y="314.3" text-anchor="middle" class="t">0</text>
<line x1="570" y1="284" x2="570" y2="290.9" stroke="#333" stroke-width="1.7"/>
<text x="570" y="314.3" text-anchor="middle" class="t">5000</text>
<line x1="654" y1="284" x2="654" y2="290.9" stroke="#333" stroke-width="1.7"/>
<text x="654" y="314.3" text-anchor="middle" class="t">10000</text>
<line x1="738" y1="284" x2="738" y2="290.9" stroke="#333" stroke-width="1.7"/>
<text x="738" y="314.3" text-anchor="middle" class="t">15000</text>
<line x1="94.5" y1="352" x2="94.5" y2="620" stroke="#000" stroke-width="2.2"/>
<line x1="86.3" y1="403.1" x2="93.5" y2="403.1" stroke="#333" stroke-width="1.7"/>
<text x="80.0" y="412.5" text-anchor="end" class="t">15000</text>
<line x1="86.3" y1="471.1" x2="93.5" y2="471.1" stroke="#333" stroke-width="1.7"/>
<text x="80.0" y="480.5" text-anchor="end" class="t">10000</text>
<line x1="86.3" y1="539.05" x2="93.5" y2="539.05" stroke="#333" stroke-width="1.7"/>
<text x="80.0" y="548.4499999999999" text-anchor="end" class="t">5000</text>
<line x1="86.3" y1="607.0" x2="93.5" y2="607.0" stroke="#333" stroke-width="1.7"/>
<text x="80.0" y="616.4" text-anchor="end" class="t">0</text>
<line x1="94.5" y1="619" x2="368.25" y2="619" stroke="#000" stroke-width="2.2"/>
<line x1="143" y1="620" x2="143" y2="626.9" stroke="#333" stroke-width="1.7"/>
<text x="143" y="650.3" text-anchor="middle" class="t">-1000</text>
<line x1="212" y1="620" x2="212" y2="626.9" stroke="#333" stroke-width="1.7"/>
<text x="212" y="650.3" text-anchor="middle" class="t">0</text>
<line x1="281" y1="620" x2="281" y2="626.9" stroke="#333" stroke-width="1.7"/>
<text x="281" y="650.3" text-anchor="middle" class="t">1000</text>
<line x1="350" y1="620" x2="350" y2="626.9" stroke="#333" stroke-width="1.7"/>
<text x="350" y="650.3" text-anchor="middle" class="t">2000</text>
</svg>
</body></html>
